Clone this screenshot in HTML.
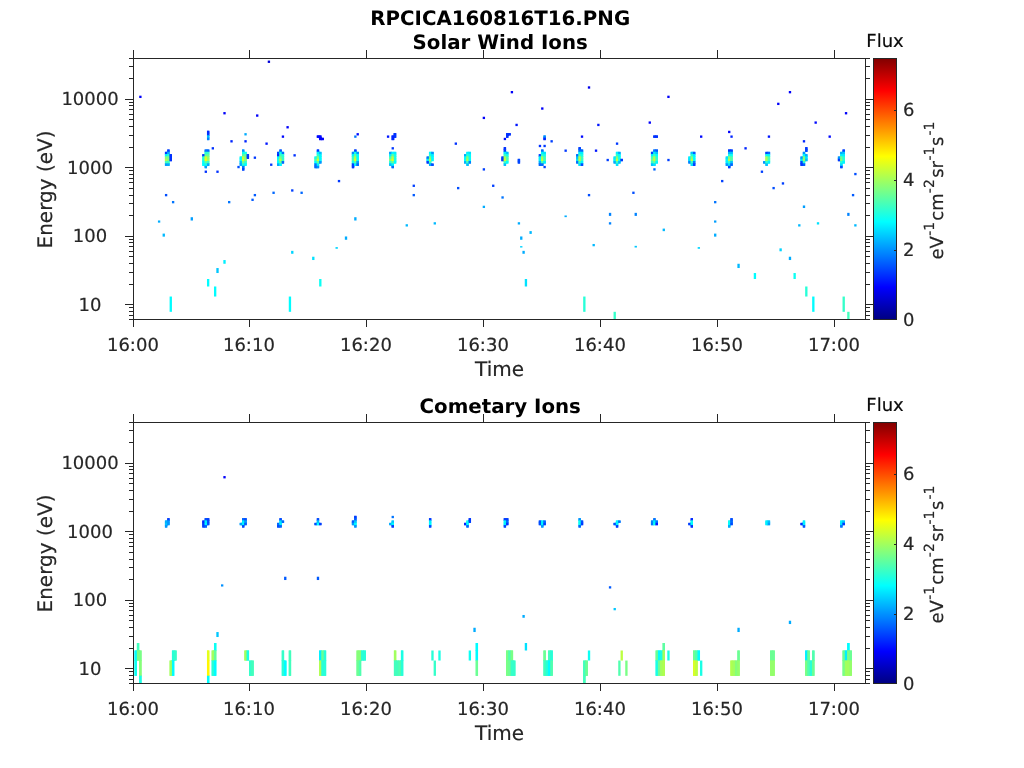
<!DOCTYPE html>
<html lang="en">
<head>
<meta charset="utf-8">
<title>RPCICA160816T16.PNG</title>
<style>
html,body{margin:0;padding:0;background:#fff;}
body{width:1024px;height:768px;overflow:hidden;}
svg{display:block;}
text{font-family:"DejaVu Sans", "Liberation Sans", sans-serif;fill:#262626;text-rendering:geometricPrecision;}
.t,.f{font-size:18px;}

.l{font-size:20px;}
.t,.f,.l{stroke:#262626;stroke-width:0.2px;}
.f{fill:#0a0a0a;stroke:#0a0a0a;}
.sup{font-size:14px;}
.h{font-size:19.8px;font-weight:bold;fill:#000;}
.ax rect{shape-rendering:crispEdges;}
</style>
</head>
<body>
<svg width="1024" height="768" viewBox="0 0 1024 768">
<defs><linearGradient id="jet" x1="0" y1="0" x2="0" y2="1"><stop offset="0.0000" stop-color="#800000"/><stop offset="0.0156" stop-color="#8f0000"/><stop offset="0.0312" stop-color="#9f0000"/><stop offset="0.0469" stop-color="#af0000"/><stop offset="0.0625" stop-color="#bf0000"/><stop offset="0.0781" stop-color="#cf0000"/><stop offset="0.0938" stop-color="#df0000"/><stop offset="0.1094" stop-color="#ef0000"/><stop offset="0.1250" stop-color="#ff0000"/><stop offset="0.1406" stop-color="#ff1000"/><stop offset="0.1562" stop-color="#ff2000"/><stop offset="0.1719" stop-color="#ff3000"/><stop offset="0.1875" stop-color="#ff4000"/><stop offset="0.2031" stop-color="#ff5000"/><stop offset="0.2188" stop-color="#ff6000"/><stop offset="0.2344" stop-color="#ff7000"/><stop offset="0.2500" stop-color="#ff8000"/><stop offset="0.2656" stop-color="#ff8f00"/><stop offset="0.2812" stop-color="#ff9f00"/><stop offset="0.2969" stop-color="#ffaf00"/><stop offset="0.3125" stop-color="#ffbf00"/><stop offset="0.3281" stop-color="#ffcf00"/><stop offset="0.3438" stop-color="#ffdf00"/><stop offset="0.3594" stop-color="#ffef00"/><stop offset="0.3750" stop-color="#ffff00"/><stop offset="0.3906" stop-color="#efff10"/><stop offset="0.4062" stop-color="#dfff20"/><stop offset="0.4219" stop-color="#cfff30"/><stop offset="0.4375" stop-color="#bfff40"/><stop offset="0.4531" stop-color="#afff50"/><stop offset="0.4688" stop-color="#9fff60"/><stop offset="0.4844" stop-color="#8fff70"/><stop offset="0.5000" stop-color="#80ff80"/><stop offset="0.5156" stop-color="#70ff8f"/><stop offset="0.5312" stop-color="#60ff9f"/><stop offset="0.5469" stop-color="#50ffaf"/><stop offset="0.5625" stop-color="#40ffbf"/><stop offset="0.5781" stop-color="#30ffcf"/><stop offset="0.5938" stop-color="#20ffdf"/><stop offset="0.6094" stop-color="#10ffef"/><stop offset="0.6250" stop-color="#00ffff"/><stop offset="0.6406" stop-color="#00efff"/><stop offset="0.6562" stop-color="#00dfff"/><stop offset="0.6719" stop-color="#00cfff"/><stop offset="0.6875" stop-color="#00bfff"/><stop offset="0.7031" stop-color="#00afff"/><stop offset="0.7188" stop-color="#009fff"/><stop offset="0.7344" stop-color="#008fff"/><stop offset="0.7500" stop-color="#0080ff"/><stop offset="0.7656" stop-color="#0070ff"/><stop offset="0.7812" stop-color="#0060ff"/><stop offset="0.7969" stop-color="#0050ff"/><stop offset="0.8125" stop-color="#0040ff"/><stop offset="0.8281" stop-color="#0030ff"/><stop offset="0.8438" stop-color="#0020ff"/><stop offset="0.8594" stop-color="#0010ff"/><stop offset="0.8750" stop-color="#0000ff"/><stop offset="0.8906" stop-color="#0000ef"/><stop offset="0.9062" stop-color="#0000df"/><stop offset="0.9219" stop-color="#0000cf"/><stop offset="0.9375" stop-color="#0000bf"/><stop offset="0.9531" stop-color="#0000af"/><stop offset="0.9688" stop-color="#00009f"/><stop offset="0.9844" stop-color="#00008f"/><stop offset="1.0000" stop-color="#000080"/></linearGradient></defs>
<rect x="0" y="0" width="1024" height="768" fill="#ffffff"/>
<text transform="translate(500.2 25) scale(1 1)" text-anchor="middle" class="h">RPCICA160816T16.PNG</text>
<g id="solar-wind">
<g class="d">
<rect x="316.80" y="135.46" width="2.84" height="2.34" fill="#0008ff"/>
<rect x="318.64" y="135.46" width="2.84" height="2.84" fill="#0008ff"/>
<rect x="319.14" y="137.30" width="2.84" height="2.84" fill="#0000fa"/>
<rect x="320.98" y="137.80" width="2.84" height="2.34" fill="#0000fa"/>
<rect x="393.41" y="133.12" width="2.84" height="4.68" fill="#0031ff"/>
<rect x="391.58" y="135.46" width="2.84" height="4.68" fill="#0024ff"/>
<rect x="506.07" y="133.12" width="2.84" height="2.84" fill="#0031ff"/>
<rect x="507.91" y="133.12" width="2.84" height="2.34" fill="#0031ff"/>
<rect x="506.07" y="134.96" width="2.34" height="2.84" fill="#0031ff"/>
<rect x="543.45" y="135.46" width="2.34" height="2.84" fill="#0090ff"/>
<rect x="543.45" y="137.30" width="2.34" height="2.84" fill="#0024ff"/>
<rect x="653.28" y="135.46" width="2.84" height="2.34" fill="#0031ff"/>
<rect x="655.11" y="135.46" width="2.84" height="2.34" fill="#0031ff"/>
<rect x="167.26" y="149.50" width="2.34" height="2.84" fill="#003fff"/>
<rect x="164.93" y="151.84" width="2.84" height="2.84" fill="#0038ff"/>
<rect x="166.76" y="151.34" width="2.84" height="3.34" fill="#00a5ff"/>
<rect x="164.93" y="153.68" width="2.84" height="3.34" fill="#00f6ff"/>
<rect x="166.76" y="153.68" width="3.34" height="3.34" fill="#27ffd8"/>
<rect x="169.10" y="154.18" width="2.84" height="2.84" fill="#0031ff"/>
<rect x="164.93" y="156.02" width="2.84" height="3.34" fill="#80ff80"/>
<rect x="166.76" y="156.02" width="3.34" height="3.34" fill="#79ff86"/>
<rect x="169.10" y="156.02" width="2.84" height="3.34" fill="#0031ff"/>
<rect x="164.93" y="158.36" width="2.84" height="3.34" fill="#afff50"/>
<rect x="166.76" y="158.36" width="3.34" height="3.34" fill="#86ff79"/>
<rect x="169.10" y="158.36" width="2.84" height="2.84" fill="#0031ff"/>
<rect x="164.93" y="160.70" width="2.84" height="3.34" fill="#42ffbd"/>
<rect x="166.76" y="160.70" width="2.84" height="3.34" fill="#35ffca"/>
<rect x="164.93" y="163.04" width="2.84" height="2.84" fill="#009eff"/>
<rect x="166.76" y="163.04" width="2.84" height="2.84" fill="#00acff"/>
<rect x="204.65" y="149.50" width="2.84" height="2.84" fill="#0075ff"/>
<rect x="206.48" y="149.50" width="2.84" height="2.84" fill="#0068ff"/>
<rect x="204.65" y="151.34" width="2.84" height="3.34" fill="#27ffd8"/>
<rect x="206.48" y="151.34" width="2.84" height="3.34" fill="#35ffca"/>
<rect x="202.31" y="154.18" width="2.84" height="2.84" fill="#0038ff"/>
<rect x="204.15" y="153.68" width="3.34" height="3.34" fill="#5effa2"/>
<rect x="206.48" y="153.68" width="2.84" height="3.34" fill="#64ff9b"/>
<rect x="202.31" y="156.02" width="2.84" height="3.34" fill="#27ffd8"/>
<rect x="204.15" y="156.02" width="3.34" height="3.34" fill="#d8ff27"/>
<rect x="206.48" y="156.02" width="2.84" height="3.34" fill="#94ff6b"/>
<rect x="202.31" y="158.36" width="2.84" height="3.34" fill="#20ffdf"/>
<rect x="204.15" y="158.36" width="3.34" height="3.34" fill="#ecff13"/>
<rect x="206.48" y="158.36" width="2.84" height="3.34" fill="#9bff64"/>
<rect x="202.31" y="160.70" width="2.84" height="3.34" fill="#00fdff"/>
<rect x="204.15" y="160.70" width="3.34" height="3.34" fill="#64ff9b"/>
<rect x="206.48" y="160.70" width="2.84" height="3.34" fill="#35ffca"/>
<rect x="202.31" y="163.04" width="2.84" height="2.84" fill="#00fdff"/>
<rect x="204.15" y="163.04" width="3.34" height="3.34" fill="#13ffec"/>
<rect x="206.48" y="163.04" width="2.84" height="2.84" fill="#00acff"/>
<rect x="204.65" y="165.38" width="2.34" height="2.84" fill="#009eff"/>
<rect x="242.03" y="149.50" width="2.34" height="2.84" fill="#0097ff"/>
<rect x="242.03" y="151.34" width="2.84" height="3.34" fill="#0cfff3"/>
<rect x="243.87" y="151.84" width="2.84" height="2.84" fill="#13ffec"/>
<rect x="242.03" y="153.68" width="2.84" height="3.34" fill="#50ffaf"/>
<rect x="243.87" y="153.68" width="3.34" height="3.34" fill="#64ff9b"/>
<rect x="246.21" y="154.18" width="2.84" height="2.84" fill="#0038ff"/>
<rect x="239.70" y="156.52" width="2.84" height="2.84" fill="#00f6ff"/>
<rect x="241.53" y="156.02" width="3.34" height="3.34" fill="#caff35"/>
<rect x="243.87" y="156.02" width="3.34" height="3.34" fill="#86ff79"/>
<rect x="246.21" y="156.02" width="2.84" height="2.84" fill="#0031ff"/>
<rect x="239.70" y="158.36" width="2.84" height="3.34" fill="#00fdff"/>
<rect x="241.53" y="158.36" width="3.34" height="3.34" fill="#d8ff27"/>
<rect x="243.87" y="158.36" width="2.84" height="3.34" fill="#79ff86"/>
<rect x="239.70" y="160.70" width="2.84" height="3.34" fill="#00c0ff"/>
<rect x="241.53" y="160.70" width="3.34" height="3.34" fill="#79ff86"/>
<rect x="243.87" y="160.70" width="2.84" height="3.34" fill="#35ffca"/>
<rect x="239.70" y="163.04" width="2.84" height="2.84" fill="#00acff"/>
<rect x="241.53" y="163.04" width="3.34" height="3.34" fill="#27ffd8"/>
<rect x="243.87" y="163.04" width="2.84" height="2.84" fill="#00fdff"/>
<rect x="242.03" y="165.38" width="2.34" height="3.34" fill="#0075ff"/>
<rect x="242.03" y="167.72" width="2.34" height="2.84" fill="#0046ff"/>
<rect x="279.42" y="149.50" width="2.34" height="2.84" fill="#005aff"/>
<rect x="277.08" y="151.84" width="2.84" height="2.84" fill="#0046ff"/>
<rect x="278.92" y="151.34" width="3.34" height="3.34" fill="#0cfff3"/>
<rect x="281.26" y="151.84" width="2.84" height="2.84" fill="#006eff"/>
<rect x="277.08" y="153.68" width="2.84" height="3.34" fill="#0024ff"/>
<rect x="278.92" y="153.68" width="3.34" height="3.34" fill="#3cffc3"/>
<rect x="281.26" y="153.68" width="2.84" height="3.34" fill="#27ffd8"/>
<rect x="277.08" y="156.02" width="2.84" height="3.34" fill="#00fdff"/>
<rect x="278.92" y="156.02" width="3.34" height="3.34" fill="#79ff86"/>
<rect x="281.26" y="156.02" width="2.84" height="3.34" fill="#35ffca"/>
<rect x="277.08" y="158.36" width="2.84" height="3.34" fill="#1affe5"/>
<rect x="278.92" y="158.36" width="3.34" height="3.34" fill="#bdff42"/>
<rect x="281.26" y="158.36" width="2.84" height="3.34" fill="#35ffca"/>
<rect x="277.08" y="160.70" width="2.84" height="3.34" fill="#00fdff"/>
<rect x="278.92" y="160.70" width="3.34" height="3.34" fill="#6bff94"/>
<rect x="281.26" y="160.70" width="2.84" height="2.84" fill="#0068ff"/>
<rect x="277.08" y="163.04" width="2.84" height="2.84" fill="#00acff"/>
<rect x="278.92" y="163.04" width="2.84" height="2.84" fill="#00f6ff"/>
<rect x="316.80" y="149.50" width="2.34" height="2.84" fill="#0038ff"/>
<rect x="316.80" y="151.34" width="2.84" height="3.34" fill="#00f6ff"/>
<rect x="318.64" y="151.84" width="2.84" height="2.84" fill="#00c0ff"/>
<rect x="316.80" y="153.68" width="2.84" height="3.34" fill="#35ffca"/>
<rect x="318.64" y="153.68" width="2.84" height="3.34" fill="#00f6ff"/>
<rect x="314.47" y="156.52" width="2.84" height="2.84" fill="#13ffec"/>
<rect x="316.30" y="156.02" width="3.34" height="3.34" fill="#86ff79"/>
<rect x="318.64" y="156.02" width="2.84" height="3.34" fill="#00fdff"/>
<rect x="314.47" y="158.36" width="2.84" height="3.34" fill="#42ffbd"/>
<rect x="316.30" y="158.36" width="3.34" height="3.34" fill="#d1ff2e"/>
<rect x="318.64" y="158.36" width="2.84" height="3.34" fill="#00fdff"/>
<rect x="314.47" y="160.70" width="2.84" height="3.34" fill="#00fdff"/>
<rect x="316.30" y="160.70" width="3.34" height="3.34" fill="#64ff9b"/>
<rect x="318.64" y="160.70" width="2.84" height="2.84" fill="#0097ff"/>
<rect x="314.47" y="163.04" width="2.84" height="3.34" fill="#0075ff"/>
<rect x="316.30" y="163.04" width="2.84" height="3.34" fill="#00f0ff"/>
<rect x="314.47" y="165.38" width="2.84" height="2.84" fill="#0068ff"/>
<rect x="316.30" y="165.38" width="2.84" height="2.84" fill="#0090ff"/>
<rect x="354.19" y="149.50" width="2.34" height="2.84" fill="#003fff"/>
<rect x="351.85" y="151.84" width="2.84" height="2.84" fill="#0090ff"/>
<rect x="353.69" y="151.34" width="3.34" height="3.34" fill="#0cfff3"/>
<rect x="356.03" y="151.84" width="2.84" height="2.84" fill="#0097ff"/>
<rect x="351.85" y="153.68" width="2.84" height="3.34" fill="#00f6ff"/>
<rect x="353.69" y="153.68" width="3.34" height="3.34" fill="#64ff9b"/>
<rect x="356.03" y="153.68" width="2.84" height="3.34" fill="#00fdff"/>
<rect x="351.85" y="156.02" width="2.84" height="3.34" fill="#35ffca"/>
<rect x="353.69" y="156.02" width="3.34" height="3.34" fill="#afff50"/>
<rect x="356.03" y="156.02" width="2.84" height="3.34" fill="#00fdff"/>
<rect x="351.85" y="158.36" width="2.84" height="3.34" fill="#42ffbd"/>
<rect x="353.69" y="158.36" width="3.34" height="3.34" fill="#dfff20"/>
<rect x="356.03" y="158.36" width="2.84" height="3.34" fill="#00fdff"/>
<rect x="351.85" y="160.70" width="2.84" height="3.34" fill="#13ffec"/>
<rect x="353.69" y="160.70" width="3.34" height="3.34" fill="#64ff9b"/>
<rect x="356.03" y="160.70" width="2.84" height="3.34" fill="#009eff"/>
<rect x="351.85" y="163.04" width="2.84" height="3.34" fill="#003fff"/>
<rect x="353.69" y="163.04" width="3.34" height="2.84" fill="#00f0ff"/>
<rect x="356.03" y="163.04" width="2.84" height="2.84" fill="#006eff"/>
<rect x="351.85" y="165.38" width="2.34" height="2.84" fill="#0038ff"/>
<rect x="389.24" y="151.84" width="2.84" height="2.84" fill="#009eff"/>
<rect x="391.08" y="151.84" width="3.34" height="2.84" fill="#00f6ff"/>
<rect x="393.41" y="151.84" width="2.84" height="2.84" fill="#00f0ff"/>
<rect x="389.24" y="153.68" width="2.84" height="3.34" fill="#00f0ff"/>
<rect x="391.08" y="153.68" width="3.34" height="3.34" fill="#64ff9b"/>
<rect x="393.41" y="153.68" width="2.84" height="3.34" fill="#13ffec"/>
<rect x="389.24" y="156.02" width="2.84" height="3.34" fill="#42ffbd"/>
<rect x="391.08" y="156.02" width="3.34" height="3.34" fill="#b6ff49"/>
<rect x="393.41" y="156.02" width="2.84" height="3.34" fill="#20ffdf"/>
<rect x="389.24" y="158.36" width="2.84" height="3.34" fill="#86ff79"/>
<rect x="391.08" y="158.36" width="3.34" height="3.34" fill="#dfff20"/>
<rect x="393.41" y="158.36" width="2.84" height="3.34" fill="#13ffec"/>
<rect x="389.24" y="160.70" width="2.84" height="3.34" fill="#27ffd8"/>
<rect x="391.08" y="160.70" width="3.34" height="3.34" fill="#6bff94"/>
<rect x="393.41" y="160.70" width="2.84" height="2.84" fill="#00fdff"/>
<rect x="389.24" y="163.04" width="2.84" height="2.84" fill="#00c0ff"/>
<rect x="391.08" y="163.04" width="2.84" height="3.34" fill="#00f6ff"/>
<rect x="391.58" y="165.38" width="2.34" height="2.84" fill="#006eff"/>
<rect x="428.96" y="151.84" width="2.84" height="2.84" fill="#00f6ff"/>
<rect x="430.80" y="151.84" width="2.84" height="2.84" fill="#0097ff"/>
<rect x="428.96" y="153.68" width="2.84" height="3.34" fill="#20ffdf"/>
<rect x="430.80" y="153.68" width="2.84" height="3.34" fill="#00f0ff"/>
<rect x="426.62" y="156.52" width="2.84" height="2.84" fill="#0075ff"/>
<rect x="428.46" y="156.02" width="3.34" height="3.34" fill="#79ff86"/>
<rect x="430.80" y="156.02" width="2.84" height="3.34" fill="#00fdff"/>
<rect x="426.62" y="158.36" width="2.84" height="3.34" fill="#00f0ff"/>
<rect x="428.46" y="158.36" width="3.34" height="3.34" fill="#bdff42"/>
<rect x="430.80" y="158.36" width="2.84" height="2.84" fill="#00fdff"/>
<rect x="426.62" y="160.70" width="2.84" height="2.84" fill="#0038ff"/>
<rect x="428.46" y="160.70" width="2.84" height="3.34" fill="#42ffbd"/>
<rect x="428.96" y="163.04" width="2.84" height="2.84" fill="#00acff"/>
<rect x="430.80" y="163.54" width="2.84" height="2.34" fill="#004dff"/>
<rect x="466.35" y="151.84" width="2.84" height="2.84" fill="#00f0ff"/>
<rect x="468.18" y="151.84" width="2.84" height="2.84" fill="#00e2ff"/>
<rect x="464.01" y="154.18" width="2.84" height="2.84" fill="#00acff"/>
<rect x="465.85" y="153.68" width="3.34" height="3.34" fill="#27ffd8"/>
<rect x="468.18" y="153.68" width="2.84" height="3.34" fill="#00fdff"/>
<rect x="464.01" y="156.02" width="2.84" height="3.34" fill="#00fdff"/>
<rect x="465.85" y="156.02" width="3.34" height="3.34" fill="#86ff79"/>
<rect x="468.18" y="156.02" width="2.84" height="3.34" fill="#0cfff3"/>
<rect x="464.01" y="158.36" width="2.84" height="3.34" fill="#00fdff"/>
<rect x="465.85" y="158.36" width="3.34" height="3.34" fill="#afff50"/>
<rect x="468.18" y="158.36" width="2.84" height="3.34" fill="#00fdff"/>
<rect x="464.01" y="160.70" width="2.84" height="2.84" fill="#00b2ff"/>
<rect x="465.85" y="160.70" width="3.34" height="3.34" fill="#3cffc3"/>
<rect x="468.18" y="160.70" width="2.84" height="2.84" fill="#0083ff"/>
<rect x="466.35" y="163.04" width="2.34" height="2.84" fill="#00c0ff"/>
<rect x="503.73" y="147.16" width="2.34" height="2.84" fill="#0031ff"/>
<rect x="503.73" y="149.00" width="2.34" height="3.34" fill="#0038ff"/>
<rect x="503.73" y="151.34" width="2.84" height="3.34" fill="#00f0ff"/>
<rect x="505.57" y="151.84" width="2.84" height="2.84" fill="#00c0ff"/>
<rect x="503.73" y="153.68" width="2.84" height="3.34" fill="#3cffc3"/>
<rect x="505.57" y="153.68" width="2.84" height="3.34" fill="#13ffec"/>
<rect x="501.40" y="156.52" width="2.84" height="2.84" fill="#003fff"/>
<rect x="503.23" y="156.02" width="3.34" height="3.34" fill="#afff50"/>
<rect x="505.57" y="156.02" width="2.84" height="3.34" fill="#50ffaf"/>
<rect x="501.40" y="158.36" width="2.84" height="2.84" fill="#0038ff"/>
<rect x="503.23" y="158.36" width="3.34" height="3.34" fill="#d1ff2e"/>
<rect x="505.57" y="158.36" width="2.84" height="3.34" fill="#50ffaf"/>
<rect x="503.73" y="160.70" width="2.84" height="3.34" fill="#42ffbd"/>
<rect x="505.57" y="160.70" width="2.84" height="2.84" fill="#00fdff"/>
<rect x="503.73" y="163.04" width="2.34" height="2.84" fill="#00c0ff"/>
<rect x="541.12" y="149.50" width="2.34" height="2.84" fill="#006eff"/>
<rect x="541.12" y="151.34" width="2.84" height="3.34" fill="#00f0ff"/>
<rect x="542.95" y="151.84" width="2.84" height="2.84" fill="#00e2ff"/>
<rect x="538.78" y="154.18" width="2.84" height="2.84" fill="#004dff"/>
<rect x="540.62" y="153.68" width="3.34" height="3.34" fill="#35ffca"/>
<rect x="542.95" y="153.68" width="2.84" height="3.34" fill="#13ffec"/>
<rect x="538.78" y="156.02" width="2.84" height="3.34" fill="#00f0ff"/>
<rect x="540.62" y="156.02" width="3.34" height="3.34" fill="#afff50"/>
<rect x="542.95" y="156.02" width="2.84" height="3.34" fill="#3cffc3"/>
<rect x="538.78" y="158.36" width="2.84" height="3.34" fill="#00f6ff"/>
<rect x="540.62" y="158.36" width="3.34" height="3.34" fill="#caff35"/>
<rect x="542.95" y="158.36" width="2.84" height="3.34" fill="#42ffbd"/>
<rect x="538.78" y="160.70" width="2.84" height="3.34" fill="#00acff"/>
<rect x="540.62" y="160.70" width="3.34" height="3.34" fill="#50ffaf"/>
<rect x="542.95" y="160.70" width="2.84" height="2.84" fill="#00f0ff"/>
<rect x="538.78" y="163.04" width="2.84" height="2.84" fill="#0068ff"/>
<rect x="540.62" y="163.04" width="2.84" height="2.84" fill="#006eff"/>
<rect x="578.50" y="147.16" width="2.34" height="2.84" fill="#003fff"/>
<rect x="578.50" y="149.00" width="2.84" height="3.34" fill="#006eff"/>
<rect x="580.34" y="149.50" width="2.84" height="2.84" fill="#0068ff"/>
<rect x="578.50" y="151.34" width="2.84" height="3.34" fill="#00f0ff"/>
<rect x="580.34" y="151.34" width="2.84" height="3.34" fill="#00f0ff"/>
<rect x="576.17" y="154.18" width="2.84" height="2.84" fill="#006eff"/>
<rect x="578.00" y="153.68" width="3.34" height="3.34" fill="#3cffc3"/>
<rect x="580.34" y="153.68" width="2.84" height="3.34" fill="#13ffec"/>
<rect x="576.17" y="156.02" width="2.84" height="3.34" fill="#00c0ff"/>
<rect x="578.00" y="156.02" width="3.34" height="3.34" fill="#b6ff49"/>
<rect x="580.34" y="156.02" width="2.84" height="3.34" fill="#42ffbd"/>
<rect x="576.17" y="158.36" width="2.84" height="3.34" fill="#00e2ff"/>
<rect x="578.00" y="158.36" width="3.34" height="3.34" fill="#bdff42"/>
<rect x="580.34" y="158.36" width="2.84" height="3.34" fill="#35ffca"/>
<rect x="576.17" y="160.70" width="2.84" height="2.84" fill="#006eff"/>
<rect x="578.00" y="160.70" width="3.34" height="3.34" fill="#42ffbd"/>
<rect x="580.34" y="160.70" width="2.84" height="3.34" fill="#00f6ff"/>
<rect x="578.50" y="163.04" width="2.84" height="2.84" fill="#00e2ff"/>
<rect x="580.34" y="163.04" width="2.84" height="2.84" fill="#004dff"/>
<rect x="615.89" y="151.84" width="2.84" height="2.84" fill="#00f0ff"/>
<rect x="617.73" y="151.84" width="2.84" height="2.84" fill="#00acff"/>
<rect x="615.89" y="153.68" width="2.84" height="3.34" fill="#35ffca"/>
<rect x="617.73" y="153.68" width="2.84" height="3.34" fill="#00fdff"/>
<rect x="613.55" y="156.52" width="2.84" height="2.84" fill="#00e9ff"/>
<rect x="615.39" y="156.02" width="3.34" height="3.34" fill="#86ff79"/>
<rect x="617.73" y="156.02" width="2.84" height="3.34" fill="#13ffec"/>
<rect x="613.55" y="158.36" width="2.84" height="3.34" fill="#00f0ff"/>
<rect x="615.39" y="158.36" width="3.34" height="3.34" fill="#caff35"/>
<rect x="617.73" y="158.36" width="3.34" height="3.34" fill="#13ffec"/>
<rect x="613.55" y="160.70" width="2.84" height="2.84" fill="#00acff"/>
<rect x="615.39" y="160.70" width="3.34" height="3.34" fill="#42ffbd"/>
<rect x="617.73" y="160.70" width="2.84" height="2.84" fill="#00c0ff"/>
<rect x="615.89" y="163.04" width="2.34" height="2.84" fill="#00e2ff"/>
<rect x="653.28" y="149.50" width="2.84" height="2.84" fill="#0075ff"/>
<rect x="655.11" y="149.50" width="2.84" height="2.84" fill="#005aff"/>
<rect x="650.94" y="151.84" width="2.84" height="2.84" fill="#003fff"/>
<rect x="652.78" y="151.34" width="3.34" height="3.34" fill="#00e9ff"/>
<rect x="655.11" y="151.34" width="2.84" height="3.34" fill="#00c0ff"/>
<rect x="650.94" y="153.68" width="2.84" height="3.34" fill="#00f0ff"/>
<rect x="652.78" y="153.68" width="3.34" height="3.34" fill="#42ffbd"/>
<rect x="655.11" y="153.68" width="2.84" height="3.34" fill="#00fdff"/>
<rect x="650.94" y="156.02" width="2.84" height="3.34" fill="#42ffbd"/>
<rect x="652.78" y="156.02" width="3.34" height="3.34" fill="#afff50"/>
<rect x="655.11" y="156.02" width="2.84" height="3.34" fill="#27ffd8"/>
<rect x="650.94" y="158.36" width="2.84" height="3.34" fill="#64ff9b"/>
<rect x="652.78" y="158.36" width="3.34" height="3.34" fill="#bdff42"/>
<rect x="655.11" y="158.36" width="2.84" height="3.34" fill="#35ffca"/>
<rect x="650.94" y="160.70" width="2.84" height="3.34" fill="#35ffca"/>
<rect x="652.78" y="160.70" width="3.34" height="3.34" fill="#64ff9b"/>
<rect x="655.11" y="160.70" width="2.84" height="2.84" fill="#00f6ff"/>
<rect x="650.94" y="163.04" width="2.84" height="2.84" fill="#00c0ff"/>
<rect x="652.78" y="163.04" width="2.84" height="2.84" fill="#00e2ff"/>
<rect x="690.66" y="151.84" width="2.84" height="2.84" fill="#00c0ff"/>
<rect x="692.50" y="151.84" width="2.84" height="2.84" fill="#005aff"/>
<rect x="690.66" y="153.68" width="2.84" height="3.34" fill="#27ffd8"/>
<rect x="692.50" y="153.68" width="2.84" height="3.34" fill="#00f0ff"/>
<rect x="688.32" y="156.52" width="2.84" height="2.84" fill="#00f0ff"/>
<rect x="690.16" y="156.02" width="3.34" height="3.34" fill="#86ff79"/>
<rect x="692.50" y="156.02" width="2.84" height="3.34" fill="#00fdff"/>
<rect x="688.32" y="158.36" width="2.84" height="3.34" fill="#00e2ff"/>
<rect x="690.16" y="158.36" width="3.34" height="3.34" fill="#bdff42"/>
<rect x="692.50" y="158.36" width="2.84" height="3.34" fill="#00fdff"/>
<rect x="688.32" y="160.70" width="2.84" height="2.84" fill="#0083ff"/>
<rect x="690.16" y="160.70" width="3.34" height="3.34" fill="#3cffc3"/>
<rect x="692.50" y="160.70" width="2.84" height="3.34" fill="#0075ff"/>
<rect x="690.66" y="163.04" width="2.84" height="2.84" fill="#00e2ff"/>
<rect x="692.50" y="163.04" width="2.84" height="2.84" fill="#003fff"/>
<rect x="728.05" y="149.50" width="2.84" height="2.84" fill="#0038ff"/>
<rect x="729.88" y="149.50" width="2.84" height="2.84" fill="#003fff"/>
<rect x="728.05" y="151.34" width="2.84" height="3.34" fill="#00b9ff"/>
<rect x="729.88" y="151.34" width="2.84" height="3.34" fill="#00c0ff"/>
<rect x="728.05" y="153.68" width="2.84" height="3.34" fill="#13ffec"/>
<rect x="729.88" y="153.68" width="2.84" height="3.34" fill="#0cfff3"/>
<rect x="725.71" y="156.52" width="2.84" height="2.84" fill="#00e2ff"/>
<rect x="727.55" y="156.02" width="3.34" height="3.34" fill="#86ff79"/>
<rect x="729.88" y="156.02" width="2.84" height="3.34" fill="#50ffaf"/>
<rect x="725.71" y="158.36" width="2.84" height="3.34" fill="#00f6ff"/>
<rect x="727.55" y="158.36" width="3.34" height="3.34" fill="#b6ff49"/>
<rect x="729.88" y="158.36" width="2.84" height="3.34" fill="#50ffaf"/>
<rect x="725.71" y="160.70" width="2.84" height="3.34" fill="#00f0ff"/>
<rect x="727.55" y="160.70" width="3.34" height="3.34" fill="#35ffca"/>
<rect x="729.88" y="160.70" width="2.84" height="3.34" fill="#00c0ff"/>
<rect x="725.71" y="163.04" width="2.84" height="2.84" fill="#0097ff"/>
<rect x="727.55" y="163.04" width="3.34" height="3.34" fill="#00e2ff"/>
<rect x="729.88" y="163.04" width="2.84" height="2.84" fill="#0068ff"/>
<rect x="728.05" y="165.38" width="2.34" height="2.84" fill="#003fff"/>
<rect x="765.43" y="151.84" width="2.84" height="2.84" fill="#003fff"/>
<rect x="767.27" y="151.84" width="2.84" height="2.84" fill="#0068ff"/>
<rect x="765.43" y="153.68" width="2.84" height="3.34" fill="#13ffec"/>
<rect x="767.27" y="153.68" width="2.84" height="3.34" fill="#00f6ff"/>
<rect x="765.43" y="156.02" width="2.84" height="3.34" fill="#a2ff5e"/>
<rect x="767.27" y="156.02" width="2.84" height="3.34" fill="#50ffaf"/>
<rect x="765.43" y="158.36" width="2.84" height="3.34" fill="#afff50"/>
<rect x="767.27" y="158.36" width="2.84" height="3.34" fill="#42ffbd"/>
<rect x="763.10" y="161.20" width="2.84" height="2.34" fill="#0097ff"/>
<rect x="764.93" y="160.70" width="3.34" height="3.34" fill="#35ffca"/>
<rect x="767.27" y="160.70" width="2.84" height="2.84" fill="#00f6ff"/>
<rect x="765.43" y="163.04" width="2.34" height="2.84" fill="#00c0ff"/>
<rect x="805.15" y="147.16" width="2.34" height="2.84" fill="#0038ff"/>
<rect x="805.15" y="149.00" width="2.34" height="2.84" fill="#003fff"/>
<rect x="802.82" y="151.84" width="2.34" height="2.84" fill="#0097ff"/>
<rect x="802.82" y="153.68" width="2.84" height="3.34" fill="#00fdff"/>
<rect x="804.65" y="154.18" width="2.84" height="2.84" fill="#00acff"/>
<rect x="800.48" y="156.52" width="2.84" height="2.84" fill="#0097ff"/>
<rect x="802.32" y="156.02" width="3.34" height="3.34" fill="#86ff79"/>
<rect x="804.65" y="156.02" width="2.84" height="3.34" fill="#00e9ff"/>
<rect x="800.48" y="158.36" width="2.84" height="3.34" fill="#00e2ff"/>
<rect x="802.32" y="158.36" width="3.34" height="3.34" fill="#a2ff5e"/>
<rect x="804.65" y="158.36" width="2.84" height="2.84" fill="#00c0ff"/>
<rect x="800.48" y="160.70" width="2.84" height="3.34" fill="#003fff"/>
<rect x="802.32" y="160.70" width="2.84" height="3.34" fill="#27ffd8"/>
<rect x="800.48" y="163.04" width="2.84" height="2.84" fill="#0038ff"/>
<rect x="802.32" y="163.04" width="2.84" height="2.84" fill="#005aff"/>
<rect x="842.54" y="149.50" width="2.34" height="2.84" fill="#003fff"/>
<rect x="840.20" y="151.84" width="2.84" height="2.84" fill="#00acff"/>
<rect x="842.04" y="151.34" width="2.84" height="3.34" fill="#00c0ff"/>
<rect x="840.20" y="153.68" width="2.84" height="3.34" fill="#00f0ff"/>
<rect x="842.04" y="153.68" width="2.84" height="3.34" fill="#00f0ff"/>
<rect x="837.87" y="156.52" width="2.84" height="2.84" fill="#0097ff"/>
<rect x="839.70" y="156.02" width="3.34" height="3.34" fill="#6bff94"/>
<rect x="842.04" y="156.02" width="2.84" height="3.34" fill="#27ffd8"/>
<rect x="837.87" y="158.36" width="2.84" height="2.84" fill="#0038ff"/>
<rect x="839.70" y="158.36" width="3.34" height="3.34" fill="#86ff79"/>
<rect x="842.04" y="158.36" width="2.84" height="3.34" fill="#27ffd8"/>
<rect x="840.20" y="160.70" width="2.84" height="3.34" fill="#27ffd8"/>
<rect x="842.04" y="160.70" width="2.84" height="2.84" fill="#00f6ff"/>
<rect x="840.20" y="163.04" width="2.34" height="3.34" fill="#00e2ff"/>
<rect x="840.20" y="165.38" width="2.34" height="2.84" fill="#004dff"/>
<rect x="517.75" y="158.86" width="2.34" height="2.84" fill="#0046ff"/>
<rect x="517.75" y="160.70" width="2.34" height="2.84" fill="#0046ff"/>
<rect x="620.06" y="158.86" width="2.84" height="2.34" fill="#0038ff"/>
<rect x="206.98" y="130.78" width="2.34" height="2.84" fill="#002aff"/>
<rect x="206.98" y="132.62" width="2.34" height="3.34" fill="#0031ff"/>
<rect x="206.98" y="134.96" width="2.34" height="3.34" fill="#00c0ff"/>
<rect x="206.98" y="137.30" width="2.34" height="2.84" fill="#0083ff"/>
<rect x="139.22" y="95.68" width="2.34" height="2.34" fill="#0000fa"/>
<rect x="223.34" y="112.06" width="2.34" height="2.34" fill="#0000fa"/>
<rect x="230.35" y="140.14" width="2.34" height="2.34" fill="#0024ff"/>
<rect x="244.37" y="133.12" width="2.34" height="2.34" fill="#00acff"/>
<rect x="244.37" y="140.14" width="2.34" height="2.34" fill="#0024ff"/>
<rect x="164.93" y="193.96" width="2.34" height="2.34" fill="#004dff"/>
<rect x="171.94" y="200.98" width="2.34" height="2.34" fill="#0075ff"/>
<rect x="157.92" y="220.47" width="2.34" height="2.18" fill="#00acff"/>
<rect x="190.63" y="217.22" width="2.34" height="3.30" fill="#009eff"/>
<rect x="228.01" y="200.98" width="2.34" height="2.34" fill="#0075ff"/>
<rect x="251.38" y="198.64" width="2.34" height="2.34" fill="#005aff"/>
<rect x="253.72" y="193.96" width="2.34" height="2.34" fill="#005aff"/>
<rect x="162.59" y="233.60" width="2.34" height="3.05" fill="#00b9ff"/>
<rect x="223.34" y="260.04" width="2.34" height="3.73" fill="#00f0ff"/>
<rect x="216.33" y="268.04" width="2.34" height="4.98" fill="#00c7ff"/>
<rect x="206.98" y="279.00" width="2.34" height="7.50" fill="#00fdff"/>
<rect x="213.99" y="286.49" width="2.34" height="10.04" fill="#00fdff"/>
<rect x="169.60" y="296.54" width="2.34" height="15.28" fill="#00fdff"/>
<rect x="267.74" y="60.58" width="2.34" height="2.34" fill="#0000d8"/>
<rect x="256.05" y="114.40" width="2.34" height="2.34" fill="#0000fa"/>
<rect x="286.43" y="126.10" width="2.34" height="2.34" fill="#0000fa"/>
<rect x="281.76" y="135.46" width="2.34" height="2.34" fill="#0008ff"/>
<rect x="265.40" y="142.48" width="2.34" height="2.34" fill="#0016ff"/>
<rect x="316.80" y="135.46" width="2.34" height="2.34" fill="#0008ff"/>
<rect x="319.14" y="135.46" width="2.34" height="2.34" fill="#0008ff"/>
<rect x="319.14" y="137.80" width="2.34" height="2.34" fill="#0000fa"/>
<rect x="321.48" y="137.80" width="2.34" height="2.34" fill="#0000fa"/>
<rect x="356.53" y="133.12" width="2.34" height="2.34" fill="#0008ff"/>
<rect x="354.19" y="135.46" width="2.34" height="2.34" fill="#0075ff"/>
<rect x="291.10" y="189.28" width="2.34" height="2.34" fill="#003fff"/>
<rect x="272.41" y="191.62" width="2.34" height="2.34" fill="#0068ff"/>
<rect x="300.45" y="191.62" width="2.34" height="2.34" fill="#0068ff"/>
<rect x="354.19" y="217.22" width="2.34" height="3.30" fill="#00acff"/>
<rect x="344.84" y="236.47" width="2.34" height="3.30" fill="#00acff"/>
<rect x="335.50" y="247.10" width="2.34" height="1.68" fill="#00d4ff"/>
<rect x="291.10" y="250.85" width="2.34" height="2.93" fill="#00d4ff"/>
<rect x="312.13" y="256.73" width="2.34" height="3.30" fill="#00e2ff"/>
<rect x="319.14" y="279.00" width="2.34" height="7.50" fill="#0cfff3"/>
<rect x="288.77" y="296.54" width="2.34" height="15.28" fill="#00fdff"/>
<rect x="510.74" y="91.00" width="2.34" height="2.34" fill="#0000fa"/>
<rect x="482.70" y="116.74" width="2.34" height="2.34" fill="#0000fa"/>
<rect x="386.90" y="135.46" width="2.34" height="2.34" fill="#0016ff"/>
<rect x="393.91" y="133.12" width="2.34" height="4.68" fill="#0031ff"/>
<rect x="391.58" y="135.46" width="2.34" height="4.68" fill="#0024ff"/>
<rect x="506.07" y="133.12" width="2.34" height="2.34" fill="#0031ff"/>
<rect x="508.41" y="133.12" width="2.34" height="2.34" fill="#0031ff"/>
<rect x="506.07" y="135.46" width="2.34" height="2.34" fill="#0031ff"/>
<rect x="503.73" y="137.80" width="2.34" height="2.34" fill="#0008ff"/>
<rect x="457.00" y="186.94" width="2.34" height="2.34" fill="#004dff"/>
<rect x="412.61" y="193.96" width="2.34" height="2.34" fill="#005aff"/>
<rect x="501.40" y="196.30" width="2.34" height="2.34" fill="#0075ff"/>
<rect x="482.70" y="205.72" width="2.34" height="2.30" fill="#00acff"/>
<rect x="433.63" y="222.22" width="2.34" height="2.30" fill="#00b9ff"/>
<rect x="405.60" y="224.22" width="2.34" height="2.30" fill="#00b9ff"/>
<rect x="587.85" y="86.32" width="2.34" height="2.34" fill="#0000ec"/>
<rect x="541.12" y="107.38" width="2.34" height="2.34" fill="#0000fa"/>
<rect x="515.42" y="123.76" width="2.34" height="2.34" fill="#0016ff"/>
<rect x="597.20" y="123.76" width="2.34" height="2.34" fill="#0016ff"/>
<rect x="543.45" y="135.46" width="2.34" height="2.34" fill="#0090ff"/>
<rect x="543.45" y="137.80" width="2.34" height="2.34" fill="#0024ff"/>
<rect x="580.84" y="135.46" width="2.34" height="2.34" fill="#0008ff"/>
<rect x="594.86" y="149.50" width="2.34" height="2.34" fill="#0016ff"/>
<rect x="587.85" y="193.96" width="2.34" height="2.34" fill="#004dff"/>
<rect x="632.25" y="191.62" width="2.34" height="2.34" fill="#004dff"/>
<rect x="564.48" y="215.47" width="2.34" height="1.68" fill="#00acff"/>
<rect x="608.88" y="212.85" width="2.34" height="3.05" fill="#0083ff"/>
<rect x="634.58" y="212.85" width="2.34" height="3.05" fill="#0083ff"/>
<rect x="517.75" y="222.22" width="2.34" height="2.30" fill="#00acff"/>
<rect x="608.88" y="222.22" width="2.34" height="2.30" fill="#0083ff"/>
<rect x="529.44" y="231.10" width="2.34" height="2.80" fill="#00b9ff"/>
<rect x="520.09" y="236.47" width="2.34" height="3.30" fill="#00acff"/>
<rect x="520.09" y="246.10" width="2.34" height="1.43" fill="#00d4ff"/>
<rect x="522.43" y="250.85" width="2.34" height="2.93" fill="#00acff"/>
<rect x="592.52" y="243.97" width="2.34" height="2.30" fill="#00b9ff"/>
<rect x="634.58" y="245.85" width="2.34" height="1.68" fill="#00c7ff"/>
<rect x="524.76" y="279.00" width="2.34" height="7.50" fill="#00e2ff"/>
<rect x="583.18" y="296.54" width="2.34" height="15.28" fill="#27ffd8"/>
<rect x="613.55" y="311.81" width="2.34" height="7.69" fill="#35ffca"/>
<rect x="667.29" y="95.68" width="2.34" height="2.34" fill="#0000fa"/>
<rect x="648.60" y="121.42" width="2.34" height="2.34" fill="#0000fa"/>
<rect x="653.28" y="135.46" width="2.34" height="2.34" fill="#0031ff"/>
<rect x="655.61" y="135.46" width="2.34" height="2.34" fill="#0031ff"/>
<rect x="700.01" y="135.46" width="2.34" height="2.34" fill="#0008ff"/>
<rect x="728.05" y="130.78" width="2.34" height="2.34" fill="#0000fa"/>
<rect x="730.38" y="135.46" width="2.34" height="2.34" fill="#0024ff"/>
<rect x="744.40" y="147.16" width="2.34" height="2.34" fill="#0024ff"/>
<rect x="714.03" y="200.98" width="2.34" height="2.34" fill="#0075ff"/>
<rect x="714.03" y="220.47" width="2.34" height="2.18" fill="#009eff"/>
<rect x="662.62" y="228.60" width="2.34" height="2.55" fill="#00b9ff"/>
<rect x="714.03" y="233.60" width="2.34" height="3.05" fill="#00acff"/>
<rect x="697.67" y="247.10" width="2.34" height="1.68" fill="#00d4ff"/>
<rect x="737.39" y="263.77" width="2.34" height="4.26" fill="#00b9ff"/>
<rect x="753.75" y="273.02" width="2.34" height="5.98" fill="#00fdff"/>
<rect x="788.80" y="91.00" width="2.34" height="2.34" fill="#0000fa"/>
<rect x="777.12" y="102.70" width="2.34" height="2.34" fill="#0000fa"/>
<rect x="844.88" y="112.06" width="2.34" height="2.34" fill="#0000fa"/>
<rect x="814.50" y="121.42" width="2.34" height="2.34" fill="#0008ff"/>
<rect x="767.77" y="135.46" width="2.34" height="2.34" fill="#0016ff"/>
<rect x="828.52" y="135.46" width="2.34" height="2.34" fill="#0008ff"/>
<rect x="772.44" y="186.94" width="2.34" height="2.34" fill="#004dff"/>
<rect x="851.89" y="193.96" width="2.34" height="2.34" fill="#005aff"/>
<rect x="802.82" y="205.47" width="2.34" height="2.55" fill="#009eff"/>
<rect x="847.21" y="212.85" width="2.34" height="3.05" fill="#0083ff"/>
<rect x="798.14" y="224.22" width="2.34" height="2.30" fill="#00b9ff"/>
<rect x="816.84" y="222.22" width="2.34" height="2.30" fill="#00e2ff"/>
<rect x="854.22" y="224.22" width="2.34" height="2.30" fill="#00b9ff"/>
<rect x="779.45" y="248.35" width="2.34" height="2.93" fill="#00d4ff"/>
<rect x="788.80" y="256.73" width="2.34" height="3.30" fill="#00acff"/>
<rect x="793.47" y="273.02" width="2.34" height="5.98" fill="#0cfff3"/>
<rect x="805.15" y="286.49" width="2.34" height="10.04" fill="#27ffd8"/>
<rect x="812.16" y="296.54" width="2.34" height="15.28" fill="#00fdff"/>
<rect x="842.54" y="296.54" width="2.34" height="15.28" fill="#35ffca"/>
<rect x="847.21" y="311.81" width="2.34" height="7.69" fill="#42ffbd"/>
<rect x="167.26" y="149.50" width="2.34" height="2.34" fill="#003fff"/>
<rect x="164.93" y="151.84" width="2.34" height="2.34" fill="#0038ff"/>
<rect x="167.26" y="151.84" width="2.34" height="2.34" fill="#00a5ff"/>
<rect x="164.93" y="154.18" width="2.34" height="2.34" fill="#00f6ff"/>
<rect x="167.26" y="154.18" width="2.34" height="2.34" fill="#27ffd8"/>
<rect x="169.60" y="154.18" width="2.34" height="2.34" fill="#0031ff"/>
<rect x="164.93" y="156.52" width="2.34" height="2.34" fill="#80ff80"/>
<rect x="167.26" y="156.52" width="2.34" height="2.34" fill="#79ff86"/>
<rect x="169.60" y="156.52" width="2.34" height="2.34" fill="#0031ff"/>
<rect x="164.93" y="158.86" width="2.34" height="2.34" fill="#afff50"/>
<rect x="167.26" y="158.86" width="2.34" height="2.34" fill="#86ff79"/>
<rect x="169.60" y="158.86" width="2.34" height="2.34" fill="#0031ff"/>
<rect x="164.93" y="161.20" width="2.34" height="2.34" fill="#42ffbd"/>
<rect x="167.26" y="161.20" width="2.34" height="2.34" fill="#35ffca"/>
<rect x="164.93" y="163.54" width="2.34" height="2.34" fill="#009eff"/>
<rect x="167.26" y="163.54" width="2.34" height="2.34" fill="#00acff"/>
<rect x="204.65" y="149.50" width="2.34" height="2.34" fill="#0075ff"/>
<rect x="206.98" y="149.50" width="2.34" height="2.34" fill="#0068ff"/>
<rect x="204.65" y="151.84" width="2.34" height="2.34" fill="#27ffd8"/>
<rect x="206.98" y="151.84" width="2.34" height="2.34" fill="#35ffca"/>
<rect x="202.31" y="154.18" width="2.34" height="2.34" fill="#0038ff"/>
<rect x="204.65" y="154.18" width="2.34" height="2.34" fill="#5effa2"/>
<rect x="206.98" y="154.18" width="2.34" height="2.34" fill="#64ff9b"/>
<rect x="202.31" y="156.52" width="2.34" height="2.34" fill="#27ffd8"/>
<rect x="204.65" y="156.52" width="2.34" height="2.34" fill="#d8ff27"/>
<rect x="206.98" y="156.52" width="2.34" height="2.34" fill="#94ff6b"/>
<rect x="202.31" y="158.86" width="2.34" height="2.34" fill="#20ffdf"/>
<rect x="204.65" y="158.86" width="2.34" height="2.34" fill="#ecff13"/>
<rect x="206.98" y="158.86" width="2.34" height="2.34" fill="#9bff64"/>
<rect x="202.31" y="161.20" width="2.34" height="2.34" fill="#00fdff"/>
<rect x="204.65" y="161.20" width="2.34" height="2.34" fill="#64ff9b"/>
<rect x="206.98" y="161.20" width="2.34" height="2.34" fill="#35ffca"/>
<rect x="202.31" y="163.54" width="2.34" height="2.34" fill="#00fdff"/>
<rect x="204.65" y="163.54" width="2.34" height="2.34" fill="#13ffec"/>
<rect x="206.98" y="163.54" width="2.34" height="2.34" fill="#00acff"/>
<rect x="204.65" y="165.88" width="2.34" height="2.34" fill="#009eff"/>
<rect x="242.03" y="149.50" width="2.34" height="2.34" fill="#0097ff"/>
<rect x="242.03" y="151.84" width="2.34" height="2.34" fill="#0cfff3"/>
<rect x="244.37" y="151.84" width="2.34" height="2.34" fill="#13ffec"/>
<rect x="242.03" y="154.18" width="2.34" height="2.34" fill="#50ffaf"/>
<rect x="244.37" y="154.18" width="2.34" height="2.34" fill="#64ff9b"/>
<rect x="246.71" y="154.18" width="2.34" height="2.34" fill="#0038ff"/>
<rect x="239.70" y="156.52" width="2.34" height="2.34" fill="#00f6ff"/>
<rect x="242.03" y="156.52" width="2.34" height="2.34" fill="#caff35"/>
<rect x="244.37" y="156.52" width="2.34" height="2.34" fill="#86ff79"/>
<rect x="246.71" y="156.52" width="2.34" height="2.34" fill="#0031ff"/>
<rect x="239.70" y="158.86" width="2.34" height="2.34" fill="#00fdff"/>
<rect x="242.03" y="158.86" width="2.34" height="2.34" fill="#d8ff27"/>
<rect x="244.37" y="158.86" width="2.34" height="2.34" fill="#79ff86"/>
<rect x="239.70" y="161.20" width="2.34" height="2.34" fill="#00c0ff"/>
<rect x="242.03" y="161.20" width="2.34" height="2.34" fill="#79ff86"/>
<rect x="244.37" y="161.20" width="2.34" height="2.34" fill="#35ffca"/>
<rect x="239.70" y="163.54" width="2.34" height="2.34" fill="#00acff"/>
<rect x="242.03" y="163.54" width="2.34" height="2.34" fill="#27ffd8"/>
<rect x="244.37" y="163.54" width="2.34" height="2.34" fill="#00fdff"/>
<rect x="237.36" y="165.88" width="2.34" height="2.34" fill="#004dff"/>
<rect x="242.03" y="165.88" width="2.34" height="2.34" fill="#0075ff"/>
<rect x="242.03" y="168.22" width="2.34" height="2.34" fill="#0046ff"/>
<rect x="279.42" y="149.50" width="2.34" height="2.34" fill="#005aff"/>
<rect x="277.08" y="151.84" width="2.34" height="2.34" fill="#0046ff"/>
<rect x="279.42" y="151.84" width="2.34" height="2.34" fill="#0cfff3"/>
<rect x="281.76" y="151.84" width="2.34" height="2.34" fill="#006eff"/>
<rect x="277.08" y="154.18" width="2.34" height="2.34" fill="#0024ff"/>
<rect x="279.42" y="154.18" width="2.34" height="2.34" fill="#3cffc3"/>
<rect x="281.76" y="154.18" width="2.34" height="2.34" fill="#27ffd8"/>
<rect x="277.08" y="156.52" width="2.34" height="2.34" fill="#00fdff"/>
<rect x="279.42" y="156.52" width="2.34" height="2.34" fill="#79ff86"/>
<rect x="281.76" y="156.52" width="2.34" height="2.34" fill="#35ffca"/>
<rect x="277.08" y="158.86" width="2.34" height="2.34" fill="#1affe5"/>
<rect x="279.42" y="158.86" width="2.34" height="2.34" fill="#bdff42"/>
<rect x="281.76" y="158.86" width="2.34" height="2.34" fill="#35ffca"/>
<rect x="277.08" y="161.20" width="2.34" height="2.34" fill="#00fdff"/>
<rect x="279.42" y="161.20" width="2.34" height="2.34" fill="#6bff94"/>
<rect x="281.76" y="161.20" width="2.34" height="2.34" fill="#0068ff"/>
<rect x="277.08" y="163.54" width="2.34" height="2.34" fill="#00acff"/>
<rect x="279.42" y="163.54" width="2.34" height="2.34" fill="#00f6ff"/>
<rect x="316.80" y="149.50" width="2.34" height="2.34" fill="#0038ff"/>
<rect x="316.80" y="151.84" width="2.34" height="2.34" fill="#00f6ff"/>
<rect x="319.14" y="151.84" width="2.34" height="2.34" fill="#00c0ff"/>
<rect x="316.80" y="154.18" width="2.34" height="2.34" fill="#35ffca"/>
<rect x="319.14" y="154.18" width="2.34" height="2.34" fill="#00f6ff"/>
<rect x="314.47" y="156.52" width="2.34" height="2.34" fill="#13ffec"/>
<rect x="316.80" y="156.52" width="2.34" height="2.34" fill="#86ff79"/>
<rect x="319.14" y="156.52" width="2.34" height="2.34" fill="#00fdff"/>
<rect x="314.47" y="158.86" width="2.34" height="2.34" fill="#42ffbd"/>
<rect x="316.80" y="158.86" width="2.34" height="2.34" fill="#d1ff2e"/>
<rect x="319.14" y="158.86" width="2.34" height="2.34" fill="#00fdff"/>
<rect x="314.47" y="161.20" width="2.34" height="2.34" fill="#00fdff"/>
<rect x="316.80" y="161.20" width="2.34" height="2.34" fill="#64ff9b"/>
<rect x="319.14" y="161.20" width="2.34" height="2.34" fill="#0097ff"/>
<rect x="314.47" y="163.54" width="2.34" height="2.34" fill="#0075ff"/>
<rect x="316.80" y="163.54" width="2.34" height="2.34" fill="#00f0ff"/>
<rect x="314.47" y="165.88" width="2.34" height="2.34" fill="#0068ff"/>
<rect x="316.80" y="165.88" width="2.34" height="2.34" fill="#0090ff"/>
<rect x="354.19" y="149.50" width="2.34" height="2.34" fill="#003fff"/>
<rect x="351.85" y="151.84" width="2.34" height="2.34" fill="#0090ff"/>
<rect x="354.19" y="151.84" width="2.34" height="2.34" fill="#0cfff3"/>
<rect x="356.53" y="151.84" width="2.34" height="2.34" fill="#0097ff"/>
<rect x="351.85" y="154.18" width="2.34" height="2.34" fill="#00f6ff"/>
<rect x="354.19" y="154.18" width="2.34" height="2.34" fill="#64ff9b"/>
<rect x="356.53" y="154.18" width="2.34" height="2.34" fill="#00fdff"/>
<rect x="351.85" y="156.52" width="2.34" height="2.34" fill="#35ffca"/>
<rect x="354.19" y="156.52" width="2.34" height="2.34" fill="#afff50"/>
<rect x="356.53" y="156.52" width="2.34" height="2.34" fill="#00fdff"/>
<rect x="351.85" y="158.86" width="2.34" height="2.34" fill="#42ffbd"/>
<rect x="354.19" y="158.86" width="2.34" height="2.34" fill="#dfff20"/>
<rect x="356.53" y="158.86" width="2.34" height="2.34" fill="#00fdff"/>
<rect x="351.85" y="161.20" width="2.34" height="2.34" fill="#13ffec"/>
<rect x="354.19" y="161.20" width="2.34" height="2.34" fill="#64ff9b"/>
<rect x="356.53" y="161.20" width="2.34" height="2.34" fill="#009eff"/>
<rect x="351.85" y="163.54" width="2.34" height="2.34" fill="#003fff"/>
<rect x="354.19" y="163.54" width="2.34" height="2.34" fill="#00f0ff"/>
<rect x="356.53" y="163.54" width="2.34" height="2.34" fill="#006eff"/>
<rect x="351.85" y="165.88" width="2.34" height="2.34" fill="#0038ff"/>
<rect x="389.24" y="151.84" width="2.34" height="2.34" fill="#009eff"/>
<rect x="391.58" y="151.84" width="2.34" height="2.34" fill="#00f6ff"/>
<rect x="393.91" y="151.84" width="2.34" height="2.34" fill="#00f0ff"/>
<rect x="389.24" y="154.18" width="2.34" height="2.34" fill="#00f0ff"/>
<rect x="391.58" y="154.18" width="2.34" height="2.34" fill="#64ff9b"/>
<rect x="393.91" y="154.18" width="2.34" height="2.34" fill="#13ffec"/>
<rect x="389.24" y="156.52" width="2.34" height="2.34" fill="#42ffbd"/>
<rect x="391.58" y="156.52" width="2.34" height="2.34" fill="#b6ff49"/>
<rect x="393.91" y="156.52" width="2.34" height="2.34" fill="#20ffdf"/>
<rect x="389.24" y="158.86" width="2.34" height="2.34" fill="#86ff79"/>
<rect x="391.58" y="158.86" width="2.34" height="2.34" fill="#dfff20"/>
<rect x="393.91" y="158.86" width="2.34" height="2.34" fill="#13ffec"/>
<rect x="389.24" y="161.20" width="2.34" height="2.34" fill="#27ffd8"/>
<rect x="391.58" y="161.20" width="2.34" height="2.34" fill="#6bff94"/>
<rect x="393.91" y="161.20" width="2.34" height="2.34" fill="#00fdff"/>
<rect x="389.24" y="163.54" width="2.34" height="2.34" fill="#00c0ff"/>
<rect x="391.58" y="163.54" width="2.34" height="2.34" fill="#00f6ff"/>
<rect x="391.58" y="165.88" width="2.34" height="2.34" fill="#006eff"/>
<rect x="428.96" y="151.84" width="2.34" height="2.34" fill="#00f6ff"/>
<rect x="431.30" y="151.84" width="2.34" height="2.34" fill="#0097ff"/>
<rect x="428.96" y="154.18" width="2.34" height="2.34" fill="#20ffdf"/>
<rect x="431.30" y="154.18" width="2.34" height="2.34" fill="#00f0ff"/>
<rect x="426.62" y="156.52" width="2.34" height="2.34" fill="#0075ff"/>
<rect x="428.96" y="156.52" width="2.34" height="2.34" fill="#79ff86"/>
<rect x="431.30" y="156.52" width="2.34" height="2.34" fill="#00fdff"/>
<rect x="426.62" y="158.86" width="2.34" height="2.34" fill="#00f0ff"/>
<rect x="428.96" y="158.86" width="2.34" height="2.34" fill="#bdff42"/>
<rect x="431.30" y="158.86" width="2.34" height="2.34" fill="#00fdff"/>
<rect x="426.62" y="161.20" width="2.34" height="2.34" fill="#0038ff"/>
<rect x="428.96" y="161.20" width="2.34" height="2.34" fill="#42ffbd"/>
<rect x="428.96" y="163.54" width="2.34" height="2.34" fill="#00acff"/>
<rect x="431.30" y="163.54" width="2.34" height="2.34" fill="#004dff"/>
<rect x="466.35" y="151.84" width="2.34" height="2.34" fill="#00f0ff"/>
<rect x="468.68" y="151.84" width="2.34" height="2.34" fill="#00e2ff"/>
<rect x="464.01" y="154.18" width="2.34" height="2.34" fill="#00acff"/>
<rect x="466.35" y="154.18" width="2.34" height="2.34" fill="#27ffd8"/>
<rect x="468.68" y="154.18" width="2.34" height="2.34" fill="#00fdff"/>
<rect x="464.01" y="156.52" width="2.34" height="2.34" fill="#00fdff"/>
<rect x="466.35" y="156.52" width="2.34" height="2.34" fill="#86ff79"/>
<rect x="468.68" y="156.52" width="2.34" height="2.34" fill="#0cfff3"/>
<rect x="464.01" y="158.86" width="2.34" height="2.34" fill="#00fdff"/>
<rect x="466.35" y="158.86" width="2.34" height="2.34" fill="#afff50"/>
<rect x="468.68" y="158.86" width="2.34" height="2.34" fill="#00fdff"/>
<rect x="464.01" y="161.20" width="2.34" height="2.34" fill="#00b2ff"/>
<rect x="466.35" y="161.20" width="2.34" height="2.34" fill="#3cffc3"/>
<rect x="468.68" y="161.20" width="2.34" height="2.34" fill="#0083ff"/>
<rect x="466.35" y="163.54" width="2.34" height="2.34" fill="#00c0ff"/>
<rect x="503.73" y="147.16" width="2.34" height="2.34" fill="#0031ff"/>
<rect x="503.73" y="149.50" width="2.34" height="2.34" fill="#0038ff"/>
<rect x="503.73" y="151.84" width="2.34" height="2.34" fill="#00f0ff"/>
<rect x="506.07" y="151.84" width="2.34" height="2.34" fill="#00c0ff"/>
<rect x="503.73" y="154.18" width="2.34" height="2.34" fill="#3cffc3"/>
<rect x="506.07" y="154.18" width="2.34" height="2.34" fill="#13ffec"/>
<rect x="501.40" y="156.52" width="2.34" height="2.34" fill="#003fff"/>
<rect x="503.73" y="156.52" width="2.34" height="2.34" fill="#afff50"/>
<rect x="506.07" y="156.52" width="2.34" height="2.34" fill="#50ffaf"/>
<rect x="501.40" y="158.86" width="2.34" height="2.34" fill="#0038ff"/>
<rect x="503.73" y="158.86" width="2.34" height="2.34" fill="#d1ff2e"/>
<rect x="506.07" y="158.86" width="2.34" height="2.34" fill="#50ffaf"/>
<rect x="503.73" y="161.20" width="2.34" height="2.34" fill="#42ffbd"/>
<rect x="506.07" y="161.20" width="2.34" height="2.34" fill="#00fdff"/>
<rect x="503.73" y="163.54" width="2.34" height="2.34" fill="#00c0ff"/>
<rect x="541.12" y="149.50" width="2.34" height="2.34" fill="#006eff"/>
<rect x="541.12" y="151.84" width="2.34" height="2.34" fill="#00f0ff"/>
<rect x="543.45" y="151.84" width="2.34" height="2.34" fill="#00e2ff"/>
<rect x="538.78" y="154.18" width="2.34" height="2.34" fill="#004dff"/>
<rect x="541.12" y="154.18" width="2.34" height="2.34" fill="#35ffca"/>
<rect x="543.45" y="154.18" width="2.34" height="2.34" fill="#13ffec"/>
<rect x="538.78" y="156.52" width="2.34" height="2.34" fill="#00f0ff"/>
<rect x="541.12" y="156.52" width="2.34" height="2.34" fill="#afff50"/>
<rect x="543.45" y="156.52" width="2.34" height="2.34" fill="#3cffc3"/>
<rect x="538.78" y="158.86" width="2.34" height="2.34" fill="#00f6ff"/>
<rect x="541.12" y="158.86" width="2.34" height="2.34" fill="#caff35"/>
<rect x="543.45" y="158.86" width="2.34" height="2.34" fill="#42ffbd"/>
<rect x="538.78" y="161.20" width="2.34" height="2.34" fill="#00acff"/>
<rect x="541.12" y="161.20" width="2.34" height="2.34" fill="#50ffaf"/>
<rect x="543.45" y="161.20" width="2.34" height="2.34" fill="#00f0ff"/>
<rect x="538.78" y="163.54" width="2.34" height="2.34" fill="#0068ff"/>
<rect x="541.12" y="163.54" width="2.34" height="2.34" fill="#006eff"/>
<rect x="543.45" y="165.88" width="2.34" height="2.34" fill="#003fff"/>
<rect x="578.50" y="147.16" width="2.34" height="2.34" fill="#003fff"/>
<rect x="578.50" y="149.50" width="2.34" height="2.34" fill="#006eff"/>
<rect x="580.84" y="149.50" width="2.34" height="2.34" fill="#0068ff"/>
<rect x="578.50" y="151.84" width="2.34" height="2.34" fill="#00f0ff"/>
<rect x="580.84" y="151.84" width="2.34" height="2.34" fill="#00f0ff"/>
<rect x="576.17" y="154.18" width="2.34" height="2.34" fill="#006eff"/>
<rect x="578.50" y="154.18" width="2.34" height="2.34" fill="#3cffc3"/>
<rect x="580.84" y="154.18" width="2.34" height="2.34" fill="#13ffec"/>
<rect x="576.17" y="156.52" width="2.34" height="2.34" fill="#00c0ff"/>
<rect x="578.50" y="156.52" width="2.34" height="2.34" fill="#b6ff49"/>
<rect x="580.84" y="156.52" width="2.34" height="2.34" fill="#42ffbd"/>
<rect x="576.17" y="158.86" width="2.34" height="2.34" fill="#00e2ff"/>
<rect x="578.50" y="158.86" width="2.34" height="2.34" fill="#bdff42"/>
<rect x="580.84" y="158.86" width="2.34" height="2.34" fill="#35ffca"/>
<rect x="576.17" y="161.20" width="2.34" height="2.34" fill="#006eff"/>
<rect x="578.50" y="161.20" width="2.34" height="2.34" fill="#42ffbd"/>
<rect x="580.84" y="161.20" width="2.34" height="2.34" fill="#00f6ff"/>
<rect x="578.50" y="163.54" width="2.34" height="2.34" fill="#00e2ff"/>
<rect x="580.84" y="163.54" width="2.34" height="2.34" fill="#004dff"/>
<rect x="615.89" y="151.84" width="2.34" height="2.34" fill="#00f0ff"/>
<rect x="618.23" y="151.84" width="2.34" height="2.34" fill="#00acff"/>
<rect x="615.89" y="154.18" width="2.34" height="2.34" fill="#35ffca"/>
<rect x="618.23" y="154.18" width="2.34" height="2.34" fill="#00fdff"/>
<rect x="613.55" y="156.52" width="2.34" height="2.34" fill="#00e9ff"/>
<rect x="615.89" y="156.52" width="2.34" height="2.34" fill="#86ff79"/>
<rect x="618.23" y="156.52" width="2.34" height="2.34" fill="#13ffec"/>
<rect x="613.55" y="158.86" width="2.34" height="2.34" fill="#00f0ff"/>
<rect x="615.89" y="158.86" width="2.34" height="2.34" fill="#caff35"/>
<rect x="618.23" y="158.86" width="2.34" height="2.34" fill="#13ffec"/>
<rect x="613.55" y="161.20" width="2.34" height="2.34" fill="#00acff"/>
<rect x="615.89" y="161.20" width="2.34" height="2.34" fill="#42ffbd"/>
<rect x="618.23" y="161.20" width="2.34" height="2.34" fill="#00c0ff"/>
<rect x="615.89" y="163.54" width="2.34" height="2.34" fill="#00e2ff"/>
<rect x="653.28" y="149.50" width="2.34" height="2.34" fill="#0075ff"/>
<rect x="655.61" y="149.50" width="2.34" height="2.34" fill="#005aff"/>
<rect x="650.94" y="151.84" width="2.34" height="2.34" fill="#003fff"/>
<rect x="653.28" y="151.84" width="2.34" height="2.34" fill="#00e9ff"/>
<rect x="655.61" y="151.84" width="2.34" height="2.34" fill="#00c0ff"/>
<rect x="650.94" y="154.18" width="2.34" height="2.34" fill="#00f0ff"/>
<rect x="653.28" y="154.18" width="2.34" height="2.34" fill="#42ffbd"/>
<rect x="655.61" y="154.18" width="2.34" height="2.34" fill="#00fdff"/>
<rect x="650.94" y="156.52" width="2.34" height="2.34" fill="#42ffbd"/>
<rect x="653.28" y="156.52" width="2.34" height="2.34" fill="#afff50"/>
<rect x="655.61" y="156.52" width="2.34" height="2.34" fill="#27ffd8"/>
<rect x="650.94" y="158.86" width="2.34" height="2.34" fill="#64ff9b"/>
<rect x="653.28" y="158.86" width="2.34" height="2.34" fill="#bdff42"/>
<rect x="655.61" y="158.86" width="2.34" height="2.34" fill="#35ffca"/>
<rect x="650.94" y="161.20" width="2.34" height="2.34" fill="#35ffca"/>
<rect x="653.28" y="161.20" width="2.34" height="2.34" fill="#64ff9b"/>
<rect x="655.61" y="161.20" width="2.34" height="2.34" fill="#00f6ff"/>
<rect x="650.94" y="163.54" width="2.34" height="2.34" fill="#00c0ff"/>
<rect x="653.28" y="163.54" width="2.34" height="2.34" fill="#00e2ff"/>
<rect x="690.66" y="151.84" width="2.34" height="2.34" fill="#00c0ff"/>
<rect x="693.00" y="151.84" width="2.34" height="2.34" fill="#005aff"/>
<rect x="690.66" y="154.18" width="2.34" height="2.34" fill="#27ffd8"/>
<rect x="693.00" y="154.18" width="2.34" height="2.34" fill="#00f0ff"/>
<rect x="688.32" y="156.52" width="2.34" height="2.34" fill="#00f0ff"/>
<rect x="690.66" y="156.52" width="2.34" height="2.34" fill="#86ff79"/>
<rect x="693.00" y="156.52" width="2.34" height="2.34" fill="#00fdff"/>
<rect x="688.32" y="158.86" width="2.34" height="2.34" fill="#00e2ff"/>
<rect x="690.66" y="158.86" width="2.34" height="2.34" fill="#bdff42"/>
<rect x="693.00" y="158.86" width="2.34" height="2.34" fill="#00fdff"/>
<rect x="688.32" y="161.20" width="2.34" height="2.34" fill="#0083ff"/>
<rect x="690.66" y="161.20" width="2.34" height="2.34" fill="#3cffc3"/>
<rect x="693.00" y="161.20" width="2.34" height="2.34" fill="#0075ff"/>
<rect x="690.66" y="163.54" width="2.34" height="2.34" fill="#00e2ff"/>
<rect x="693.00" y="163.54" width="2.34" height="2.34" fill="#003fff"/>
<rect x="728.05" y="149.50" width="2.34" height="2.34" fill="#0038ff"/>
<rect x="730.38" y="149.50" width="2.34" height="2.34" fill="#003fff"/>
<rect x="728.05" y="151.84" width="2.34" height="2.34" fill="#00b9ff"/>
<rect x="730.38" y="151.84" width="2.34" height="2.34" fill="#00c0ff"/>
<rect x="728.05" y="154.18" width="2.34" height="2.34" fill="#13ffec"/>
<rect x="730.38" y="154.18" width="2.34" height="2.34" fill="#0cfff3"/>
<rect x="725.71" y="156.52" width="2.34" height="2.34" fill="#00e2ff"/>
<rect x="728.05" y="156.52" width="2.34" height="2.34" fill="#86ff79"/>
<rect x="730.38" y="156.52" width="2.34" height="2.34" fill="#50ffaf"/>
<rect x="725.71" y="158.86" width="2.34" height="2.34" fill="#00f6ff"/>
<rect x="728.05" y="158.86" width="2.34" height="2.34" fill="#b6ff49"/>
<rect x="730.38" y="158.86" width="2.34" height="2.34" fill="#50ffaf"/>
<rect x="725.71" y="161.20" width="2.34" height="2.34" fill="#00f0ff"/>
<rect x="728.05" y="161.20" width="2.34" height="2.34" fill="#35ffca"/>
<rect x="730.38" y="161.20" width="2.34" height="2.34" fill="#00c0ff"/>
<rect x="725.71" y="163.54" width="2.34" height="2.34" fill="#0097ff"/>
<rect x="728.05" y="163.54" width="2.34" height="2.34" fill="#00e2ff"/>
<rect x="730.38" y="163.54" width="2.34" height="2.34" fill="#0068ff"/>
<rect x="728.05" y="165.88" width="2.34" height="2.34" fill="#003fff"/>
<rect x="765.43" y="151.84" width="2.34" height="2.34" fill="#003fff"/>
<rect x="767.77" y="151.84" width="2.34" height="2.34" fill="#0068ff"/>
<rect x="765.43" y="154.18" width="2.34" height="2.34" fill="#13ffec"/>
<rect x="767.77" y="154.18" width="2.34" height="2.34" fill="#00f6ff"/>
<rect x="765.43" y="156.52" width="2.34" height="2.34" fill="#a2ff5e"/>
<rect x="767.77" y="156.52" width="2.34" height="2.34" fill="#50ffaf"/>
<rect x="765.43" y="158.86" width="2.34" height="2.34" fill="#afff50"/>
<rect x="767.77" y="158.86" width="2.34" height="2.34" fill="#42ffbd"/>
<rect x="763.10" y="161.20" width="2.34" height="2.34" fill="#0097ff"/>
<rect x="765.43" y="161.20" width="2.34" height="2.34" fill="#35ffca"/>
<rect x="767.77" y="161.20" width="2.34" height="2.34" fill="#00f6ff"/>
<rect x="765.43" y="163.54" width="2.34" height="2.34" fill="#00c0ff"/>
<rect x="805.15" y="147.16" width="2.34" height="2.34" fill="#0038ff"/>
<rect x="805.15" y="149.50" width="2.34" height="2.34" fill="#003fff"/>
<rect x="802.82" y="151.84" width="2.34" height="2.34" fill="#0097ff"/>
<rect x="802.82" y="154.18" width="2.34" height="2.34" fill="#00fdff"/>
<rect x="805.15" y="154.18" width="2.34" height="2.34" fill="#00acff"/>
<rect x="800.48" y="156.52" width="2.34" height="2.34" fill="#0097ff"/>
<rect x="802.82" y="156.52" width="2.34" height="2.34" fill="#86ff79"/>
<rect x="805.15" y="156.52" width="2.34" height="2.34" fill="#00e9ff"/>
<rect x="800.48" y="158.86" width="2.34" height="2.34" fill="#00e2ff"/>
<rect x="802.82" y="158.86" width="2.34" height="2.34" fill="#a2ff5e"/>
<rect x="805.15" y="158.86" width="2.34" height="2.34" fill="#00c0ff"/>
<rect x="800.48" y="161.20" width="2.34" height="2.34" fill="#003fff"/>
<rect x="802.82" y="161.20" width="2.34" height="2.34" fill="#27ffd8"/>
<rect x="800.48" y="163.54" width="2.34" height="2.34" fill="#0038ff"/>
<rect x="802.82" y="163.54" width="2.34" height="2.34" fill="#005aff"/>
<rect x="842.54" y="149.50" width="2.34" height="2.34" fill="#003fff"/>
<rect x="840.20" y="151.84" width="2.34" height="2.34" fill="#00acff"/>
<rect x="842.54" y="151.84" width="2.34" height="2.34" fill="#00c0ff"/>
<rect x="840.20" y="154.18" width="2.34" height="2.34" fill="#00f0ff"/>
<rect x="842.54" y="154.18" width="2.34" height="2.34" fill="#00f0ff"/>
<rect x="837.87" y="156.52" width="2.34" height="2.34" fill="#0097ff"/>
<rect x="840.20" y="156.52" width="2.34" height="2.34" fill="#6bff94"/>
<rect x="842.54" y="156.52" width="2.34" height="2.34" fill="#27ffd8"/>
<rect x="837.87" y="158.86" width="2.34" height="2.34" fill="#0038ff"/>
<rect x="840.20" y="158.86" width="2.34" height="2.34" fill="#86ff79"/>
<rect x="842.54" y="158.86" width="2.34" height="2.34" fill="#27ffd8"/>
<rect x="840.20" y="161.20" width="2.34" height="2.34" fill="#27ffd8"/>
<rect x="842.54" y="161.20" width="2.34" height="2.34" fill="#00f6ff"/>
<rect x="840.20" y="163.54" width="2.34" height="2.34" fill="#00e2ff"/>
<rect x="840.20" y="165.88" width="2.34" height="2.34" fill="#004dff"/>
<rect x="211.66" y="147.16" width="2.34" height="2.34" fill="#0031ff"/>
<rect x="204.65" y="170.56" width="2.34" height="2.34" fill="#0031ff"/>
<rect x="216.33" y="170.56" width="2.34" height="2.34" fill="#0031ff"/>
<rect x="253.72" y="156.52" width="2.34" height="2.34" fill="#0038ff"/>
<rect x="270.07" y="163.54" width="2.34" height="2.34" fill="#0038ff"/>
<rect x="293.44" y="154.18" width="2.34" height="2.34" fill="#0031ff"/>
<rect x="337.83" y="179.92" width="2.34" height="2.34" fill="#0038ff"/>
<rect x="391.58" y="147.16" width="2.34" height="2.34" fill="#0038ff"/>
<rect x="412.61" y="184.60" width="2.34" height="2.34" fill="#003fff"/>
<rect x="454.66" y="142.48" width="2.34" height="2.34" fill="#0031ff"/>
<rect x="482.70" y="168.22" width="2.34" height="2.34" fill="#003fff"/>
<rect x="492.05" y="184.60" width="2.34" height="2.34" fill="#003fff"/>
<rect x="517.75" y="158.86" width="2.34" height="2.34" fill="#0046ff"/>
<rect x="517.75" y="161.20" width="2.34" height="2.34" fill="#0046ff"/>
<rect x="538.78" y="144.82" width="2.34" height="2.34" fill="#0031ff"/>
<rect x="543.45" y="144.82" width="2.34" height="2.34" fill="#0038ff"/>
<rect x="550.46" y="140.14" width="2.34" height="2.34" fill="#003fff"/>
<rect x="564.48" y="149.50" width="2.34" height="2.34" fill="#0038ff"/>
<rect x="615.89" y="142.48" width="2.34" height="2.34" fill="#0038ff"/>
<rect x="606.54" y="158.86" width="2.34" height="2.34" fill="#003fff"/>
<rect x="620.56" y="158.86" width="2.34" height="2.34" fill="#0038ff"/>
<rect x="653.28" y="168.22" width="2.34" height="2.34" fill="#0068ff"/>
<rect x="667.29" y="158.86" width="2.34" height="2.34" fill="#003fff"/>
<rect x="721.04" y="179.92" width="2.34" height="2.34" fill="#003fff"/>
<rect x="760.76" y="170.56" width="2.34" height="2.34" fill="#003fff"/>
<rect x="781.79" y="182.26" width="2.34" height="2.34" fill="#003fff"/>
<rect x="802.82" y="140.14" width="2.34" height="2.34" fill="#0024ff"/>
<rect x="854.22" y="172.90" width="2.34" height="2.34" fill="#004dff"/>
<rect x="206.98" y="130.78" width="2.34" height="2.34" fill="#002aff"/>
<rect x="206.98" y="133.12" width="2.34" height="2.34" fill="#0031ff"/>
<rect x="206.98" y="135.46" width="2.34" height="2.34" fill="#00c0ff"/>
<rect x="206.98" y="137.80" width="2.34" height="2.34" fill="#0083ff"/>
</g>
<g class="ax">
<rect x="133" y="58" width="733" height="1" fill="#262626"/>
<rect x="133" y="319" width="733" height="1" fill="#262626"/>
<rect x="133" y="58" width="1" height="262" fill="#262626"/>
<rect x="865" y="58" width="1" height="262" fill="#262626"/>
<rect x="133" y="319" width="1" height="8.3" fill="#262626"/>
<rect x="133" y="50" width="1" height="9" fill="#262626"/>
<rect x="249" y="319" width="1" height="8.3" fill="#262626"/>
<rect x="249" y="50" width="1" height="9" fill="#262626"/>
<rect x="366" y="319" width="1" height="8.3" fill="#262626"/>
<rect x="366" y="50" width="1" height="9" fill="#262626"/>
<rect x="483" y="319" width="1" height="8.3" fill="#262626"/>
<rect x="483" y="50" width="1" height="9" fill="#262626"/>
<rect x="600" y="319" width="1" height="8.3" fill="#262626"/>
<rect x="600" y="50" width="1" height="9" fill="#262626"/>
<rect x="717" y="319" width="1" height="8.3" fill="#262626"/>
<rect x="717" y="50" width="1" height="9" fill="#262626"/>
<rect x="834" y="319" width="1" height="8.3" fill="#262626"/>
<rect x="834" y="50" width="1" height="9" fill="#262626"/>
<rect x="129" y="319" width="5" height="1" fill="#262626"/>
<rect x="865" y="319" width="5" height="1" fill="#262626"/>
<rect x="129" y="315" width="5" height="1" fill="#262626"/>
<rect x="865" y="315" width="5" height="1" fill="#262626"/>
<rect x="129" y="311" width="5" height="1" fill="#262626"/>
<rect x="865" y="311" width="5" height="1" fill="#262626"/>
<rect x="129" y="307" width="5" height="1" fill="#262626"/>
<rect x="865" y="307" width="5" height="1" fill="#262626"/>
<rect x="125" y="304" width="9" height="1" fill="#262626"/>
<rect x="865" y="304" width="9" height="1" fill="#262626"/>
<rect x="129" y="284" width="5" height="1" fill="#262626"/>
<rect x="865" y="284" width="5" height="1" fill="#262626"/>
<rect x="129" y="272" width="5" height="1" fill="#262626"/>
<rect x="865" y="272" width="5" height="1" fill="#262626"/>
<rect x="129" y="263" width="5" height="1" fill="#262626"/>
<rect x="865" y="263" width="5" height="1" fill="#262626"/>
<rect x="129" y="256" width="5" height="1" fill="#262626"/>
<rect x="865" y="256" width="5" height="1" fill="#262626"/>
<rect x="129" y="251" width="5" height="1" fill="#262626"/>
<rect x="865" y="251" width="5" height="1" fill="#262626"/>
<rect x="129" y="246" width="5" height="1" fill="#262626"/>
<rect x="865" y="246" width="5" height="1" fill="#262626"/>
<rect x="129" y="242" width="5" height="1" fill="#262626"/>
<rect x="865" y="242" width="5" height="1" fill="#262626"/>
<rect x="129" y="239" width="5" height="1" fill="#262626"/>
<rect x="865" y="239" width="5" height="1" fill="#262626"/>
<rect x="125" y="236" width="9" height="1" fill="#262626"/>
<rect x="865" y="236" width="9" height="1" fill="#262626"/>
<rect x="129" y="215" width="5" height="1" fill="#262626"/>
<rect x="865" y="215" width="5" height="1" fill="#262626"/>
<rect x="129" y="203" width="5" height="1" fill="#262626"/>
<rect x="865" y="203" width="5" height="1" fill="#262626"/>
<rect x="129" y="195" width="5" height="1" fill="#262626"/>
<rect x="865" y="195" width="5" height="1" fill="#262626"/>
<rect x="129" y="188" width="5" height="1" fill="#262626"/>
<rect x="865" y="188" width="5" height="1" fill="#262626"/>
<rect x="129" y="182" width="5" height="1" fill="#262626"/>
<rect x="865" y="182" width="5" height="1" fill="#262626"/>
<rect x="129" y="178" width="5" height="1" fill="#262626"/>
<rect x="865" y="178" width="5" height="1" fill="#262626"/>
<rect x="129" y="174" width="5" height="1" fill="#262626"/>
<rect x="865" y="174" width="5" height="1" fill="#262626"/>
<rect x="129" y="170" width="5" height="1" fill="#262626"/>
<rect x="865" y="170" width="5" height="1" fill="#262626"/>
<rect x="125" y="167" width="9" height="1" fill="#262626"/>
<rect x="865" y="167" width="9" height="1" fill="#262626"/>
<rect x="129" y="147" width="5" height="1" fill="#262626"/>
<rect x="865" y="147" width="5" height="1" fill="#262626"/>
<rect x="129" y="135" width="5" height="1" fill="#262626"/>
<rect x="865" y="135" width="5" height="1" fill="#262626"/>
<rect x="129" y="126" width="5" height="1" fill="#262626"/>
<rect x="865" y="126" width="5" height="1" fill="#262626"/>
<rect x="129" y="119" width="5" height="1" fill="#262626"/>
<rect x="865" y="119" width="5" height="1" fill="#262626"/>
<rect x="129" y="114" width="5" height="1" fill="#262626"/>
<rect x="865" y="114" width="5" height="1" fill="#262626"/>
<rect x="129" y="109" width="5" height="1" fill="#262626"/>
<rect x="865" y="109" width="5" height="1" fill="#262626"/>
<rect x="129" y="105" width="5" height="1" fill="#262626"/>
<rect x="865" y="105" width="5" height="1" fill="#262626"/>
<rect x="129" y="102" width="5" height="1" fill="#262626"/>
<rect x="865" y="102" width="5" height="1" fill="#262626"/>
<rect x="125" y="99" width="9" height="1" fill="#262626"/>
<rect x="865" y="99" width="9" height="1" fill="#262626"/>
<rect x="129" y="78" width="5" height="1" fill="#262626"/>
<rect x="865" y="78" width="5" height="1" fill="#262626"/>
<rect x="129" y="66" width="5" height="1" fill="#262626"/>
<rect x="865" y="66" width="5" height="1" fill="#262626"/>
<rect x="129" y="58" width="5" height="1" fill="#262626"/>
<rect x="865" y="58" width="5" height="1" fill="#262626"/>
<rect x="873" y="58" width="24" height="262" fill="url(#jet)"/>
<rect x="873.5" y="58.5" width="23" height="261" fill="none" stroke="#262626" stroke-width="1"/>
<rect x="894" y="250" width="3" height="1" fill="#262626"/>
<rect x="894" y="180" width="3" height="1" fill="#262626"/>
<rect x="894" y="110" width="3" height="1" fill="#262626"/>
</g>
<text transform="translate(132.9 351.2) scale(1 1)" text-anchor="middle" class="t">16:00</text>
<text transform="translate(248.9 351.2) scale(1 1)" text-anchor="middle" class="t">16:10</text>
<text transform="translate(365.9 351.2) scale(1 1)" text-anchor="middle" class="t">16:20</text>
<text transform="translate(482.9 351.2) scale(1 1)" text-anchor="middle" class="t">16:30</text>
<text transform="translate(599.9 351.2) scale(1 1)" text-anchor="middle" class="t">16:40</text>
<text transform="translate(716.9 351.2) scale(1 1)" text-anchor="middle" class="t">16:50</text>
<text transform="translate(833.9 351.2) scale(1 1)" text-anchor="middle" class="t">17:00</text>
<text transform="translate(90 311) scale(1 1)" text-anchor="middle" class="t">10</text>
<text transform="translate(90 242) scale(1 1)" text-anchor="middle" class="t">100</text>
<text transform="translate(90 174) scale(1 1)" text-anchor="middle" class="t">1000</text>
<text transform="translate(90 105) scale(1 1)" text-anchor="middle" class="t">10000</text>
<text transform="translate(903 326) scale(1 1)" class="t">0</text>
<text transform="translate(903 256) scale(1 1)" class="t">2</text>
<text transform="translate(903 186) scale(1 1)" class="t">4</text>
<text transform="translate(903 116) scale(1 1)" class="t">6</text>
<text transform="translate(52 189.5) rotate(-90) scale(1 1)" text-anchor="middle" class="l">Energy (eV)</text>
<text transform="translate(499.5 376) scale(1 1)" text-anchor="middle" class="l">Time</text>
<text transform="translate(500.2 48.7) scale(1 1)" text-anchor="middle" class="h">Solar Wind Ions</text>
<text transform="translate(885 47.2) scale(1 1)" text-anchor="middle" class="f">Flux</text>
<text transform="translate(943 258.8) rotate(-90) scale(1 1)" class="t"><tspan x="-0.8" dy="0">eV</tspan><tspan x="23.0" dy="-9" class="sup">-1</tspan><tspan x="38.1" dy="9">cm</tspan><tspan x="65.65" dy="-9" class="sup">-2</tspan><tspan x="81.0" dy="9">sr</tspan><tspan x="98.3" dy="-9" class="sup">-1</tspan><tspan x="112.9" dy="9">s</tspan><tspan x="123.3" dy="-9" class="sup">-1</tspan></text>
</g>
<g id="cometary">
<g class="d">
<rect x="134.55" y="650.49" width="2.84" height="10.54" fill="#00fdff"/>
<rect x="134.55" y="660.04" width="2.34" height="15.78" fill="#0cfff3"/>
<rect x="136.89" y="643.00" width="2.34" height="8.00" fill="#42ffbd"/>
<rect x="136.39" y="649.99" width="3.34" height="10.54" fill="#79ff86"/>
<rect x="138.72" y="650.49" width="2.84" height="10.54" fill="#79ff86"/>
<rect x="139.22" y="660.04" width="2.34" height="16.28" fill="#86ff79"/>
<rect x="139.22" y="675.31" width="2.34" height="8.19" fill="#1affe5"/>
<rect x="169.60" y="660.54" width="2.84" height="15.28" fill="#a2ff5e"/>
<rect x="171.94" y="650.49" width="2.84" height="10.54" fill="#27ffd8"/>
<rect x="171.44" y="660.04" width="2.84" height="15.78" fill="#00fdff"/>
<rect x="173.77" y="650.49" width="2.84" height="10.04" fill="#35ffca"/>
<rect x="206.98" y="650.49" width="2.34" height="10.54" fill="#e5ff1a"/>
<rect x="206.98" y="660.04" width="2.34" height="16.28" fill="#fff700"/>
<rect x="206.98" y="675.31" width="2.34" height="8.19" fill="#00fdff"/>
<rect x="211.66" y="650.49" width="2.84" height="10.54" fill="#a2ff5e"/>
<rect x="211.66" y="660.04" width="2.84" height="15.78" fill="#27ffd8"/>
<rect x="213.99" y="643.00" width="2.34" height="8.00" fill="#0cfff3"/>
<rect x="213.49" y="649.99" width="2.84" height="11.04" fill="#64ff9b"/>
<rect x="213.49" y="660.04" width="2.84" height="15.78" fill="#00fdff"/>
<rect x="244.37" y="650.49" width="2.84" height="10.04" fill="#a2ff5e"/>
<rect x="246.21" y="650.49" width="2.84" height="10.04" fill="#1affe5"/>
<rect x="249.04" y="660.54" width="2.84" height="15.28" fill="#35ffca"/>
<rect x="250.88" y="660.54" width="2.84" height="15.28" fill="#42ffbd"/>
<rect x="281.76" y="650.49" width="2.34" height="10.54" fill="#35ffca"/>
<rect x="281.76" y="660.04" width="2.84" height="15.78" fill="#27ffd8"/>
<rect x="283.59" y="660.54" width="2.84" height="15.28" fill="#00fdff"/>
<rect x="288.77" y="650.49" width="2.34" height="10.54" fill="#42ffbd"/>
<rect x="288.77" y="660.04" width="2.34" height="15.78" fill="#42ffbd"/>
<rect x="319.14" y="650.49" width="2.84" height="10.54" fill="#00f0ff"/>
<rect x="319.14" y="660.04" width="2.84" height="15.78" fill="#afff50"/>
<rect x="320.98" y="650.49" width="3.34" height="10.54" fill="#6bff94"/>
<rect x="320.98" y="660.04" width="3.34" height="15.78" fill="#27ffd8"/>
<rect x="323.31" y="650.49" width="2.84" height="10.54" fill="#27ffd8"/>
<rect x="323.31" y="660.04" width="2.84" height="15.78" fill="#27ffd8"/>
<rect x="356.53" y="650.49" width="2.84" height="10.54" fill="#86ff79"/>
<rect x="356.53" y="660.04" width="2.84" height="15.78" fill="#6bff94"/>
<rect x="358.36" y="650.49" width="3.34" height="10.54" fill="#86ff79"/>
<rect x="358.36" y="660.04" width="2.84" height="15.78" fill="#50ffaf"/>
<rect x="360.70" y="650.49" width="3.34" height="10.04" fill="#27ffd8"/>
<rect x="363.04" y="650.49" width="2.84" height="10.04" fill="#27ffd8"/>
<rect x="393.91" y="650.49" width="2.34" height="10.54" fill="#a2ff5e"/>
<rect x="393.91" y="660.04" width="2.84" height="15.78" fill="#42ffbd"/>
<rect x="395.75" y="660.54" width="3.34" height="15.28" fill="#42ffbd"/>
<rect x="398.09" y="660.54" width="3.34" height="15.28" fill="#50ffaf"/>
<rect x="400.92" y="650.49" width="2.34" height="10.54" fill="#1affe5"/>
<rect x="400.42" y="660.04" width="2.84" height="15.78" fill="#27ffd8"/>
<rect x="475.69" y="643.00" width="2.34" height="8.00" fill="#00fdff"/>
<rect x="475.69" y="649.99" width="2.34" height="11.04" fill="#00fdff"/>
<rect x="475.69" y="660.04" width="2.34" height="15.78" fill="#6bff94"/>
<rect x="506.07" y="650.49" width="2.84" height="10.54" fill="#79ff86"/>
<rect x="506.07" y="660.04" width="2.84" height="15.78" fill="#79ff86"/>
<rect x="507.91" y="650.49" width="3.34" height="10.54" fill="#50ffaf"/>
<rect x="507.91" y="660.04" width="3.34" height="15.78" fill="#6bff94"/>
<rect x="510.24" y="650.49" width="2.84" height="10.54" fill="#79ff86"/>
<rect x="510.24" y="660.04" width="3.34" height="15.78" fill="#35ffca"/>
<rect x="512.58" y="660.54" width="2.84" height="15.28" fill="#35ffca"/>
<rect x="543.45" y="650.49" width="2.34" height="10.54" fill="#6bff94"/>
<rect x="543.45" y="660.04" width="2.84" height="15.78" fill="#42ffbd"/>
<rect x="545.29" y="660.54" width="3.34" height="15.28" fill="#27ffd8"/>
<rect x="548.13" y="650.49" width="2.84" height="10.54" fill="#42ffbd"/>
<rect x="547.63" y="660.04" width="3.34" height="15.78" fill="#00fdff"/>
<rect x="549.96" y="650.49" width="2.84" height="10.54" fill="#27ffd8"/>
<rect x="549.96" y="660.04" width="2.84" height="15.78" fill="#50ffaf"/>
<rect x="583.18" y="660.54" width="2.84" height="15.78" fill="#42ffbd"/>
<rect x="583.18" y="675.31" width="2.34" height="8.19" fill="#42ffbd"/>
<rect x="585.01" y="660.54" width="2.84" height="15.28" fill="#6bff94"/>
<rect x="655.61" y="650.49" width="2.84" height="10.54" fill="#6bff94"/>
<rect x="655.61" y="660.04" width="2.84" height="15.78" fill="#1affe5"/>
<rect x="657.45" y="650.49" width="3.34" height="10.54" fill="#00fdff"/>
<rect x="657.45" y="660.04" width="3.34" height="15.78" fill="#6bff94"/>
<rect x="659.78" y="650.49" width="3.34" height="10.54" fill="#1affe5"/>
<rect x="659.78" y="660.04" width="3.34" height="15.78" fill="#a2ff5e"/>
<rect x="662.62" y="643.00" width="2.34" height="8.00" fill="#5effa2"/>
<rect x="662.12" y="649.99" width="2.84" height="11.04" fill="#a2ff5e"/>
<rect x="662.12" y="660.04" width="2.84" height="15.78" fill="#afff50"/>
<rect x="693.00" y="650.49" width="2.84" height="10.54" fill="#6bff94"/>
<rect x="693.00" y="660.04" width="2.84" height="15.78" fill="#d8ff27"/>
<rect x="694.83" y="650.49" width="3.34" height="10.54" fill="#50ffaf"/>
<rect x="694.83" y="660.04" width="2.84" height="15.78" fill="#bdff42"/>
<rect x="697.17" y="650.49" width="2.84" height="10.04" fill="#00fdff"/>
<rect x="730.38" y="660.54" width="2.84" height="15.28" fill="#afff50"/>
<rect x="732.22" y="660.54" width="3.34" height="15.28" fill="#a2ff5e"/>
<rect x="734.56" y="660.54" width="3.34" height="15.28" fill="#86ff79"/>
<rect x="737.39" y="650.49" width="2.34" height="10.54" fill="#6bff94"/>
<rect x="736.89" y="660.04" width="2.84" height="15.78" fill="#94ff6b"/>
<rect x="770.11" y="650.49" width="2.84" height="10.54" fill="#6bff94"/>
<rect x="770.11" y="660.04" width="2.84" height="15.78" fill="#94ff6b"/>
<rect x="771.94" y="650.49" width="2.84" height="10.54" fill="#6bff94"/>
<rect x="771.94" y="660.04" width="2.84" height="15.78" fill="#94ff6b"/>
<rect x="805.15" y="650.49" width="2.84" height="10.54" fill="#00f0ff"/>
<rect x="805.15" y="660.04" width="2.84" height="15.78" fill="#79ff86"/>
<rect x="806.99" y="650.49" width="2.84" height="10.54" fill="#6bff94"/>
<rect x="806.99" y="660.04" width="3.34" height="15.78" fill="#50ffaf"/>
<rect x="809.33" y="660.54" width="3.34" height="15.28" fill="#27ffd8"/>
<rect x="812.16" y="650.49" width="2.34" height="10.54" fill="#50ffaf"/>
<rect x="811.66" y="660.04" width="2.84" height="15.78" fill="#6bff94"/>
<rect x="842.54" y="650.49" width="2.84" height="10.54" fill="#6bff94"/>
<rect x="842.54" y="660.04" width="2.84" height="15.78" fill="#79ff86"/>
<rect x="844.38" y="650.49" width="3.34" height="10.54" fill="#00f0ff"/>
<rect x="844.38" y="660.04" width="3.34" height="15.78" fill="#a2ff5e"/>
<rect x="847.21" y="643.00" width="2.34" height="8.00" fill="#00fdff"/>
<rect x="846.71" y="649.99" width="3.34" height="11.04" fill="#79ff86"/>
<rect x="846.71" y="660.04" width="3.34" height="15.78" fill="#a2ff5e"/>
<rect x="849.05" y="650.49" width="2.84" height="10.54" fill="#6bff94"/>
<rect x="849.05" y="660.04" width="2.84" height="15.78" fill="#94ff6b"/>
<rect x="167.26" y="518.18" width="2.34" height="2.84" fill="#003fff"/>
<rect x="164.93" y="520.52" width="2.84" height="2.84" fill="#00acff"/>
<rect x="166.76" y="520.02" width="2.84" height="3.34" fill="#0097ff"/>
<rect x="164.93" y="522.36" width="2.84" height="3.34" fill="#00c0ff"/>
<rect x="166.76" y="522.36" width="2.84" height="2.84" fill="#0097ff"/>
<rect x="164.93" y="524.70" width="2.34" height="2.84" fill="#0097ff"/>
<rect x="204.65" y="518.18" width="2.84" height="2.84" fill="#004dff"/>
<rect x="206.48" y="518.18" width="2.84" height="2.84" fill="#003fff"/>
<rect x="202.31" y="520.52" width="2.84" height="2.84" fill="#0024ff"/>
<rect x="204.15" y="520.02" width="3.34" height="3.34" fill="#00f0ff"/>
<rect x="206.48" y="520.02" width="2.84" height="3.34" fill="#004dff"/>
<rect x="202.31" y="522.36" width="2.84" height="3.34" fill="#0038ff"/>
<rect x="204.15" y="522.36" width="3.34" height="3.34" fill="#00f6ff"/>
<rect x="206.48" y="522.36" width="2.84" height="2.84" fill="#0053ff"/>
<rect x="202.31" y="524.70" width="2.84" height="2.84" fill="#003fff"/>
<rect x="204.15" y="524.70" width="2.84" height="2.84" fill="#0068ff"/>
<rect x="242.03" y="518.18" width="2.84" height="2.84" fill="#0068ff"/>
<rect x="243.87" y="518.18" width="2.84" height="2.84" fill="#004dff"/>
<rect x="242.03" y="520.02" width="2.84" height="3.34" fill="#00f0ff"/>
<rect x="243.87" y="520.02" width="2.84" height="3.34" fill="#0097ff"/>
<rect x="239.70" y="522.86" width="2.84" height="2.34" fill="#009eff"/>
<rect x="241.53" y="522.36" width="3.34" height="3.34" fill="#00f6ff"/>
<rect x="243.87" y="522.36" width="2.84" height="2.84" fill="#005aff"/>
<rect x="242.03" y="524.70" width="2.34" height="2.84" fill="#004dff"/>
<rect x="279.42" y="518.18" width="2.34" height="2.84" fill="#004dff"/>
<rect x="279.42" y="520.02" width="2.84" height="3.34" fill="#00e2ff"/>
<rect x="281.26" y="520.52" width="2.84" height="2.34" fill="#0068ff"/>
<rect x="277.08" y="522.86" width="2.84" height="2.84" fill="#0068ff"/>
<rect x="278.92" y="522.36" width="2.84" height="3.34" fill="#00f0ff"/>
<rect x="277.08" y="524.70" width="2.84" height="2.84" fill="#004dff"/>
<rect x="278.92" y="524.70" width="2.84" height="2.84" fill="#0068ff"/>
<rect x="316.80" y="518.18" width="2.34" height="2.84" fill="#004dff"/>
<rect x="316.80" y="520.02" width="2.34" height="3.34" fill="#00c0ff"/>
<rect x="314.47" y="522.86" width="2.84" height="2.34" fill="#004dff"/>
<rect x="316.30" y="522.36" width="3.34" height="2.84" fill="#00fdff"/>
<rect x="318.64" y="522.86" width="2.84" height="2.34" fill="#003fff"/>
<rect x="354.19" y="515.84" width="2.34" height="2.84" fill="#003fff"/>
<rect x="354.19" y="517.68" width="2.34" height="3.34" fill="#005aff"/>
<rect x="351.85" y="520.52" width="2.84" height="2.84" fill="#005aff"/>
<rect x="353.69" y="520.02" width="2.84" height="3.34" fill="#00c0ff"/>
<rect x="351.85" y="522.36" width="2.84" height="2.84" fill="#0097ff"/>
<rect x="353.69" y="522.36" width="2.84" height="3.34" fill="#00fdff"/>
<rect x="354.19" y="524.70" width="2.34" height="2.84" fill="#0097ff"/>
<rect x="391.58" y="520.52" width="2.34" height="2.84" fill="#00c7ff"/>
<rect x="389.24" y="522.86" width="2.84" height="2.34" fill="#00acff"/>
<rect x="391.08" y="522.36" width="2.84" height="3.34" fill="#00fdff"/>
<rect x="391.58" y="524.70" width="2.34" height="2.84" fill="#003fff"/>
<rect x="428.96" y="518.18" width="2.34" height="2.84" fill="#003fff"/>
<rect x="428.96" y="520.02" width="2.34" height="3.34" fill="#00f0ff"/>
<rect x="428.96" y="522.36" width="2.34" height="3.34" fill="#00fdff"/>
<rect x="428.96" y="524.70" width="2.34" height="2.84" fill="#004dff"/>
<rect x="468.68" y="518.18" width="2.34" height="2.84" fill="#0038ff"/>
<rect x="466.35" y="520.52" width="2.84" height="2.84" fill="#0cfff3"/>
<rect x="468.18" y="520.02" width="2.84" height="2.84" fill="#003fff"/>
<rect x="464.01" y="522.86" width="2.84" height="2.34" fill="#0024ff"/>
<rect x="465.85" y="522.36" width="2.84" height="3.34" fill="#00fdff"/>
<rect x="466.35" y="524.70" width="2.34" height="2.84" fill="#0068ff"/>
<rect x="503.73" y="518.18" width="2.84" height="2.84" fill="#003fff"/>
<rect x="505.57" y="518.18" width="2.84" height="2.84" fill="#003fff"/>
<rect x="503.73" y="520.02" width="2.84" height="3.34" fill="#00f6ff"/>
<rect x="505.57" y="520.02" width="2.84" height="3.34" fill="#0068ff"/>
<rect x="503.73" y="522.36" width="2.84" height="3.34" fill="#00f0ff"/>
<rect x="505.57" y="522.36" width="2.84" height="2.84" fill="#0031ff"/>
<rect x="503.73" y="524.70" width="2.34" height="2.84" fill="#004dff"/>
<rect x="538.78" y="520.52" width="2.84" height="2.84" fill="#004dff"/>
<rect x="540.62" y="520.52" width="3.34" height="2.84" fill="#00f6ff"/>
<rect x="542.95" y="520.52" width="2.84" height="2.84" fill="#0068ff"/>
<rect x="538.78" y="522.36" width="2.84" height="2.84" fill="#004dff"/>
<rect x="540.62" y="522.36" width="3.34" height="3.34" fill="#00fdff"/>
<rect x="542.95" y="522.36" width="2.84" height="2.84" fill="#003fff"/>
<rect x="541.12" y="524.70" width="2.34" height="2.84" fill="#0097ff"/>
<rect x="578.50" y="518.18" width="2.34" height="2.84" fill="#0097ff"/>
<rect x="578.50" y="520.02" width="2.84" height="3.34" fill="#0cfff3"/>
<rect x="580.34" y="520.52" width="2.84" height="2.84" fill="#004dff"/>
<rect x="578.50" y="522.36" width="2.84" height="3.34" fill="#0cfff3"/>
<rect x="580.34" y="522.36" width="2.84" height="2.84" fill="#0038ff"/>
<rect x="578.50" y="524.70" width="2.34" height="2.84" fill="#0068ff"/>
<rect x="615.89" y="520.52" width="2.84" height="2.84" fill="#00f6ff"/>
<rect x="617.73" y="520.52" width="2.84" height="2.34" fill="#0075ff"/>
<rect x="613.55" y="522.86" width="2.84" height="2.34" fill="#004dff"/>
<rect x="615.39" y="522.36" width="2.84" height="3.34" fill="#00f6ff"/>
<rect x="615.89" y="524.70" width="2.34" height="2.84" fill="#003fff"/>
<rect x="653.28" y="518.18" width="2.34" height="2.84" fill="#0075ff"/>
<rect x="650.94" y="520.52" width="2.84" height="2.84" fill="#0083ff"/>
<rect x="652.78" y="520.02" width="3.34" height="3.34" fill="#00f0ff"/>
<rect x="655.11" y="520.52" width="2.84" height="2.84" fill="#0075ff"/>
<rect x="650.94" y="522.36" width="2.84" height="2.84" fill="#0075ff"/>
<rect x="652.78" y="522.36" width="3.34" height="2.84" fill="#0cfff3"/>
<rect x="655.11" y="522.36" width="2.84" height="2.84" fill="#0016ff"/>
<rect x="690.66" y="518.18" width="2.34" height="2.84" fill="#002aff"/>
<rect x="690.66" y="520.02" width="2.34" height="3.34" fill="#0cfff3"/>
<rect x="688.32" y="522.86" width="2.84" height="2.34" fill="#003fff"/>
<rect x="690.16" y="522.36" width="2.84" height="3.34" fill="#00fdff"/>
<rect x="690.66" y="524.70" width="2.34" height="2.84" fill="#0031ff"/>
<rect x="730.38" y="518.18" width="2.34" height="2.84" fill="#004dff"/>
<rect x="728.05" y="520.52" width="2.84" height="2.84" fill="#0cfff3"/>
<rect x="729.88" y="520.02" width="2.84" height="3.34" fill="#0068ff"/>
<rect x="728.05" y="522.36" width="2.84" height="3.34" fill="#00fdff"/>
<rect x="729.88" y="522.36" width="2.84" height="2.84" fill="#004dff"/>
<rect x="728.05" y="524.70" width="2.34" height="2.84" fill="#00acff"/>
<rect x="765.43" y="520.52" width="2.84" height="2.84" fill="#00f0ff"/>
<rect x="767.27" y="520.52" width="2.84" height="2.84" fill="#00c0ff"/>
<rect x="765.43" y="522.36" width="2.84" height="2.84" fill="#00f0ff"/>
<rect x="767.27" y="522.36" width="2.84" height="2.84" fill="#009eff"/>
<rect x="802.82" y="520.52" width="2.34" height="2.84" fill="#00f0ff"/>
<rect x="800.48" y="522.86" width="2.84" height="2.34" fill="#002aff"/>
<rect x="802.32" y="522.36" width="2.84" height="3.34" fill="#00f0ff"/>
<rect x="802.82" y="524.70" width="2.34" height="2.84" fill="#005aff"/>
<rect x="840.20" y="520.52" width="2.84" height="2.84" fill="#00f0ff"/>
<rect x="842.04" y="520.52" width="2.84" height="2.84" fill="#00c0ff"/>
<rect x="840.20" y="522.36" width="2.84" height="3.34" fill="#00e2ff"/>
<rect x="842.04" y="522.36" width="2.84" height="2.84" fill="#0038ff"/>
<rect x="840.20" y="524.70" width="2.34" height="2.84" fill="#0075ff"/>
<rect x="223.34" y="476.06" width="2.34" height="2.34" fill="#0000fa"/>
<rect x="221.00" y="584.35" width="2.34" height="2.18" fill="#0090ff"/>
<rect x="284.09" y="576.73" width="2.34" height="3.30" fill="#005aff"/>
<rect x="316.80" y="576.73" width="2.34" height="3.30" fill="#005aff"/>
<rect x="608.88" y="586.23" width="2.34" height="2.30" fill="#005aff"/>
<rect x="613.55" y="607.98" width="2.34" height="2.30" fill="#00c7ff"/>
<rect x="522.43" y="614.98" width="2.34" height="2.80" fill="#00acff"/>
<rect x="216.33" y="632.04" width="2.34" height="4.98" fill="#00c7ff"/>
<rect x="473.36" y="627.77" width="2.34" height="4.26" fill="#00acff"/>
<rect x="524.76" y="643.00" width="2.34" height="7.50" fill="#00e2ff"/>
<rect x="737.39" y="627.77" width="2.34" height="4.26" fill="#00acff"/>
<rect x="788.80" y="620.73" width="2.34" height="3.31" fill="#00acff"/>
<rect x="134.55" y="650.49" width="2.34" height="10.04" fill="#00fdff"/>
<rect x="134.55" y="660.54" width="2.34" height="15.28" fill="#0cfff3"/>
<rect x="136.89" y="643.00" width="2.34" height="7.50" fill="#42ffbd"/>
<rect x="136.89" y="650.49" width="2.34" height="10.04" fill="#79ff86"/>
<rect x="139.22" y="650.49" width="2.34" height="10.04" fill="#79ff86"/>
<rect x="139.22" y="660.54" width="2.34" height="15.28" fill="#86ff79"/>
<rect x="139.22" y="675.81" width="2.34" height="7.69" fill="#1affe5"/>
<rect x="169.60" y="660.54" width="2.34" height="15.28" fill="#a2ff5e"/>
<rect x="171.94" y="650.49" width="2.34" height="10.04" fill="#27ffd8"/>
<rect x="171.94" y="660.54" width="2.34" height="15.28" fill="#00fdff"/>
<rect x="174.27" y="650.49" width="2.34" height="10.04" fill="#35ffca"/>
<rect x="206.98" y="650.49" width="2.34" height="10.04" fill="#e5ff1a"/>
<rect x="206.98" y="660.54" width="2.34" height="15.28" fill="#fff700"/>
<rect x="206.98" y="675.81" width="2.34" height="7.69" fill="#00fdff"/>
<rect x="211.66" y="650.49" width="2.34" height="10.04" fill="#a2ff5e"/>
<rect x="211.66" y="660.54" width="2.34" height="15.28" fill="#27ffd8"/>
<rect x="213.99" y="643.00" width="2.34" height="7.50" fill="#0cfff3"/>
<rect x="213.99" y="650.49" width="2.34" height="10.04" fill="#64ff9b"/>
<rect x="213.99" y="660.54" width="2.34" height="15.28" fill="#00fdff"/>
<rect x="244.37" y="650.49" width="2.34" height="10.04" fill="#a2ff5e"/>
<rect x="246.71" y="650.49" width="2.34" height="10.04" fill="#1affe5"/>
<rect x="249.04" y="660.54" width="2.34" height="15.28" fill="#35ffca"/>
<rect x="251.38" y="660.54" width="2.34" height="15.28" fill="#42ffbd"/>
<rect x="281.76" y="650.49" width="2.34" height="10.04" fill="#35ffca"/>
<rect x="281.76" y="660.54" width="2.34" height="15.28" fill="#27ffd8"/>
<rect x="284.09" y="660.54" width="2.34" height="15.28" fill="#00fdff"/>
<rect x="288.77" y="650.49" width="2.34" height="10.04" fill="#42ffbd"/>
<rect x="288.77" y="660.54" width="2.34" height="15.28" fill="#42ffbd"/>
<rect x="319.14" y="650.49" width="2.34" height="10.04" fill="#00f0ff"/>
<rect x="319.14" y="660.54" width="2.34" height="15.28" fill="#afff50"/>
<rect x="321.48" y="650.49" width="2.34" height="10.04" fill="#6bff94"/>
<rect x="321.48" y="660.54" width="2.34" height="15.28" fill="#27ffd8"/>
<rect x="323.81" y="650.49" width="2.34" height="10.04" fill="#27ffd8"/>
<rect x="323.81" y="660.54" width="2.34" height="15.28" fill="#27ffd8"/>
<rect x="356.53" y="650.49" width="2.34" height="10.04" fill="#86ff79"/>
<rect x="356.53" y="660.54" width="2.34" height="15.28" fill="#6bff94"/>
<rect x="358.86" y="650.49" width="2.34" height="10.04" fill="#86ff79"/>
<rect x="358.86" y="660.54" width="2.34" height="15.28" fill="#50ffaf"/>
<rect x="361.20" y="650.49" width="2.34" height="10.04" fill="#27ffd8"/>
<rect x="363.54" y="650.49" width="2.34" height="10.04" fill="#27ffd8"/>
<rect x="393.91" y="650.49" width="2.34" height="10.04" fill="#a2ff5e"/>
<rect x="393.91" y="660.54" width="2.34" height="15.28" fill="#42ffbd"/>
<rect x="396.25" y="660.54" width="2.34" height="15.28" fill="#42ffbd"/>
<rect x="398.59" y="660.54" width="2.34" height="15.28" fill="#50ffaf"/>
<rect x="400.92" y="650.49" width="2.34" height="10.04" fill="#1affe5"/>
<rect x="400.92" y="660.54" width="2.34" height="15.28" fill="#27ffd8"/>
<rect x="431.30" y="650.49" width="2.34" height="10.04" fill="#27ffd8"/>
<rect x="433.63" y="660.54" width="2.34" height="15.28" fill="#35ffca"/>
<rect x="438.31" y="650.49" width="2.34" height="10.04" fill="#1affe5"/>
<rect x="468.68" y="650.49" width="2.34" height="10.04" fill="#0cfff3"/>
<rect x="475.69" y="643.00" width="2.34" height="7.50" fill="#00fdff"/>
<rect x="475.69" y="650.49" width="2.34" height="10.04" fill="#00fdff"/>
<rect x="475.69" y="660.54" width="2.34" height="15.28" fill="#6bff94"/>
<rect x="506.07" y="650.49" width="2.34" height="10.04" fill="#79ff86"/>
<rect x="506.07" y="660.54" width="2.34" height="15.28" fill="#79ff86"/>
<rect x="508.41" y="650.49" width="2.34" height="10.04" fill="#50ffaf"/>
<rect x="508.41" y="660.54" width="2.34" height="15.28" fill="#6bff94"/>
<rect x="510.74" y="650.49" width="2.34" height="10.04" fill="#79ff86"/>
<rect x="510.74" y="660.54" width="2.34" height="15.28" fill="#35ffca"/>
<rect x="513.08" y="660.54" width="2.34" height="15.28" fill="#35ffca"/>
<rect x="543.45" y="650.49" width="2.34" height="10.04" fill="#6bff94"/>
<rect x="543.45" y="660.54" width="2.34" height="15.28" fill="#42ffbd"/>
<rect x="545.79" y="660.54" width="2.34" height="15.28" fill="#27ffd8"/>
<rect x="548.13" y="650.49" width="2.34" height="10.04" fill="#42ffbd"/>
<rect x="548.13" y="660.54" width="2.34" height="15.28" fill="#00fdff"/>
<rect x="550.46" y="650.49" width="2.34" height="10.04" fill="#27ffd8"/>
<rect x="550.46" y="660.54" width="2.34" height="15.28" fill="#50ffaf"/>
<rect x="583.18" y="660.54" width="2.34" height="15.28" fill="#42ffbd"/>
<rect x="583.18" y="675.81" width="2.34" height="7.69" fill="#42ffbd"/>
<rect x="585.51" y="660.54" width="2.34" height="15.28" fill="#6bff94"/>
<rect x="587.85" y="650.49" width="2.34" height="10.04" fill="#0cfff3"/>
<rect x="618.23" y="660.54" width="2.34" height="15.28" fill="#50ffaf"/>
<rect x="620.56" y="650.49" width="2.34" height="10.04" fill="#bdff42"/>
<rect x="625.24" y="660.54" width="2.34" height="15.28" fill="#79ff86"/>
<rect x="655.61" y="650.49" width="2.34" height="10.04" fill="#6bff94"/>
<rect x="655.61" y="660.54" width="2.34" height="15.28" fill="#1affe5"/>
<rect x="657.95" y="650.49" width="2.34" height="10.04" fill="#00fdff"/>
<rect x="657.95" y="660.54" width="2.34" height="15.28" fill="#6bff94"/>
<rect x="660.28" y="650.49" width="2.34" height="10.04" fill="#1affe5"/>
<rect x="660.28" y="660.54" width="2.34" height="15.28" fill="#a2ff5e"/>
<rect x="662.62" y="643.00" width="2.34" height="7.50" fill="#5effa2"/>
<rect x="662.62" y="650.49" width="2.34" height="10.04" fill="#a2ff5e"/>
<rect x="662.62" y="660.54" width="2.34" height="15.28" fill="#afff50"/>
<rect x="667.29" y="650.49" width="2.34" height="10.04" fill="#1affe5"/>
<rect x="693.00" y="650.49" width="2.34" height="10.04" fill="#6bff94"/>
<rect x="693.00" y="660.54" width="2.34" height="15.28" fill="#d8ff27"/>
<rect x="695.33" y="650.49" width="2.34" height="10.04" fill="#50ffaf"/>
<rect x="695.33" y="660.54" width="2.34" height="15.28" fill="#bdff42"/>
<rect x="697.67" y="650.49" width="2.34" height="10.04" fill="#00fdff"/>
<rect x="700.01" y="660.54" width="2.34" height="15.28" fill="#1affe5"/>
<rect x="730.38" y="660.54" width="2.34" height="15.28" fill="#afff50"/>
<rect x="732.72" y="660.54" width="2.34" height="15.28" fill="#a2ff5e"/>
<rect x="735.06" y="660.54" width="2.34" height="15.28" fill="#86ff79"/>
<rect x="737.39" y="650.49" width="2.34" height="10.04" fill="#6bff94"/>
<rect x="737.39" y="660.54" width="2.34" height="15.28" fill="#94ff6b"/>
<rect x="770.11" y="650.49" width="2.34" height="10.04" fill="#6bff94"/>
<rect x="770.11" y="660.54" width="2.34" height="15.28" fill="#94ff6b"/>
<rect x="772.44" y="650.49" width="2.34" height="10.04" fill="#6bff94"/>
<rect x="772.44" y="660.54" width="2.34" height="15.28" fill="#94ff6b"/>
<rect x="805.15" y="650.49" width="2.34" height="10.04" fill="#00f0ff"/>
<rect x="805.15" y="660.54" width="2.34" height="15.28" fill="#79ff86"/>
<rect x="807.49" y="650.49" width="2.34" height="10.04" fill="#6bff94"/>
<rect x="807.49" y="660.54" width="2.34" height="15.28" fill="#50ffaf"/>
<rect x="809.83" y="660.54" width="2.34" height="15.28" fill="#27ffd8"/>
<rect x="812.16" y="650.49" width="2.34" height="10.04" fill="#50ffaf"/>
<rect x="812.16" y="660.54" width="2.34" height="15.28" fill="#6bff94"/>
<rect x="842.54" y="650.49" width="2.34" height="10.04" fill="#6bff94"/>
<rect x="842.54" y="660.54" width="2.34" height="15.28" fill="#79ff86"/>
<rect x="844.88" y="650.49" width="2.34" height="10.04" fill="#00f0ff"/>
<rect x="844.88" y="660.54" width="2.34" height="15.28" fill="#a2ff5e"/>
<rect x="847.21" y="643.00" width="2.34" height="7.50" fill="#00fdff"/>
<rect x="847.21" y="650.49" width="2.34" height="10.04" fill="#79ff86"/>
<rect x="847.21" y="660.54" width="2.34" height="15.28" fill="#a2ff5e"/>
<rect x="849.55" y="650.49" width="2.34" height="10.04" fill="#6bff94"/>
<rect x="849.55" y="660.54" width="2.34" height="15.28" fill="#94ff6b"/>
<rect x="167.26" y="518.18" width="2.34" height="2.34" fill="#003fff"/>
<rect x="164.93" y="520.52" width="2.34" height="2.34" fill="#00acff"/>
<rect x="167.26" y="520.52" width="2.34" height="2.34" fill="#0097ff"/>
<rect x="164.93" y="522.86" width="2.34" height="2.34" fill="#00c0ff"/>
<rect x="167.26" y="522.86" width="2.34" height="2.34" fill="#0097ff"/>
<rect x="164.93" y="525.20" width="2.34" height="2.34" fill="#0097ff"/>
<rect x="204.65" y="518.18" width="2.34" height="2.34" fill="#004dff"/>
<rect x="206.98" y="518.18" width="2.34" height="2.34" fill="#003fff"/>
<rect x="202.31" y="520.52" width="2.34" height="2.34" fill="#0024ff"/>
<rect x="204.65" y="520.52" width="2.34" height="2.34" fill="#00f0ff"/>
<rect x="206.98" y="520.52" width="2.34" height="2.34" fill="#004dff"/>
<rect x="202.31" y="522.86" width="2.34" height="2.34" fill="#0038ff"/>
<rect x="204.65" y="522.86" width="2.34" height="2.34" fill="#00f6ff"/>
<rect x="206.98" y="522.86" width="2.34" height="2.34" fill="#0053ff"/>
<rect x="202.31" y="525.20" width="2.34" height="2.34" fill="#003fff"/>
<rect x="204.65" y="525.20" width="2.34" height="2.34" fill="#0068ff"/>
<rect x="242.03" y="518.18" width="2.34" height="2.34" fill="#0068ff"/>
<rect x="244.37" y="518.18" width="2.34" height="2.34" fill="#004dff"/>
<rect x="242.03" y="520.52" width="2.34" height="2.34" fill="#00f0ff"/>
<rect x="244.37" y="520.52" width="2.34" height="2.34" fill="#0097ff"/>
<rect x="239.70" y="522.86" width="2.34" height="2.34" fill="#009eff"/>
<rect x="242.03" y="522.86" width="2.34" height="2.34" fill="#00f6ff"/>
<rect x="244.37" y="522.86" width="2.34" height="2.34" fill="#005aff"/>
<rect x="242.03" y="525.20" width="2.34" height="2.34" fill="#004dff"/>
<rect x="279.42" y="518.18" width="2.34" height="2.34" fill="#004dff"/>
<rect x="279.42" y="520.52" width="2.34" height="2.34" fill="#00e2ff"/>
<rect x="281.76" y="520.52" width="2.34" height="2.34" fill="#0068ff"/>
<rect x="277.08" y="522.86" width="2.34" height="2.34" fill="#0068ff"/>
<rect x="279.42" y="522.86" width="2.34" height="2.34" fill="#00f0ff"/>
<rect x="277.08" y="525.20" width="2.34" height="2.34" fill="#004dff"/>
<rect x="279.42" y="525.20" width="2.34" height="2.34" fill="#0068ff"/>
<rect x="316.80" y="518.18" width="2.34" height="2.34" fill="#004dff"/>
<rect x="316.80" y="520.52" width="2.34" height="2.34" fill="#00c0ff"/>
<rect x="314.47" y="522.86" width="2.34" height="2.34" fill="#004dff"/>
<rect x="316.80" y="522.86" width="2.34" height="2.34" fill="#00fdff"/>
<rect x="319.14" y="522.86" width="2.34" height="2.34" fill="#003fff"/>
<rect x="354.19" y="515.84" width="2.34" height="2.34" fill="#003fff"/>
<rect x="354.19" y="518.18" width="2.34" height="2.34" fill="#005aff"/>
<rect x="351.85" y="520.52" width="2.34" height="2.34" fill="#005aff"/>
<rect x="354.19" y="520.52" width="2.34" height="2.34" fill="#00c0ff"/>
<rect x="351.85" y="522.86" width="2.34" height="2.34" fill="#0097ff"/>
<rect x="354.19" y="522.86" width="2.34" height="2.34" fill="#00fdff"/>
<rect x="354.19" y="525.20" width="2.34" height="2.34" fill="#0097ff"/>
<rect x="391.58" y="515.84" width="2.34" height="2.34" fill="#0075ff"/>
<rect x="391.58" y="520.52" width="2.34" height="2.34" fill="#00c7ff"/>
<rect x="389.24" y="522.86" width="2.34" height="2.34" fill="#00acff"/>
<rect x="391.58" y="522.86" width="2.34" height="2.34" fill="#00fdff"/>
<rect x="391.58" y="525.20" width="2.34" height="2.34" fill="#003fff"/>
<rect x="428.96" y="518.18" width="2.34" height="2.34" fill="#003fff"/>
<rect x="428.96" y="520.52" width="2.34" height="2.34" fill="#00f0ff"/>
<rect x="428.96" y="522.86" width="2.34" height="2.34" fill="#00fdff"/>
<rect x="428.96" y="525.20" width="2.34" height="2.34" fill="#004dff"/>
<rect x="468.68" y="518.18" width="2.34" height="2.34" fill="#0038ff"/>
<rect x="466.35" y="520.52" width="2.34" height="2.34" fill="#0cfff3"/>
<rect x="468.68" y="520.52" width="2.34" height="2.34" fill="#003fff"/>
<rect x="464.01" y="522.86" width="2.34" height="2.34" fill="#0024ff"/>
<rect x="466.35" y="522.86" width="2.34" height="2.34" fill="#00fdff"/>
<rect x="466.35" y="525.20" width="2.34" height="2.34" fill="#0068ff"/>
<rect x="503.73" y="518.18" width="2.34" height="2.34" fill="#003fff"/>
<rect x="506.07" y="518.18" width="2.34" height="2.34" fill="#003fff"/>
<rect x="503.73" y="520.52" width="2.34" height="2.34" fill="#00f6ff"/>
<rect x="506.07" y="520.52" width="2.34" height="2.34" fill="#0068ff"/>
<rect x="503.73" y="522.86" width="2.34" height="2.34" fill="#00f0ff"/>
<rect x="506.07" y="522.86" width="2.34" height="2.34" fill="#0031ff"/>
<rect x="503.73" y="525.20" width="2.34" height="2.34" fill="#004dff"/>
<rect x="538.78" y="520.52" width="2.34" height="2.34" fill="#004dff"/>
<rect x="541.12" y="520.52" width="2.34" height="2.34" fill="#00f6ff"/>
<rect x="543.45" y="520.52" width="2.34" height="2.34" fill="#0068ff"/>
<rect x="538.78" y="522.86" width="2.34" height="2.34" fill="#004dff"/>
<rect x="541.12" y="522.86" width="2.34" height="2.34" fill="#00fdff"/>
<rect x="543.45" y="522.86" width="2.34" height="2.34" fill="#003fff"/>
<rect x="541.12" y="525.20" width="2.34" height="2.34" fill="#0097ff"/>
<rect x="578.50" y="518.18" width="2.34" height="2.34" fill="#0097ff"/>
<rect x="578.50" y="520.52" width="2.34" height="2.34" fill="#0cfff3"/>
<rect x="580.84" y="520.52" width="2.34" height="2.34" fill="#004dff"/>
<rect x="578.50" y="522.86" width="2.34" height="2.34" fill="#0cfff3"/>
<rect x="580.84" y="522.86" width="2.34" height="2.34" fill="#0038ff"/>
<rect x="578.50" y="525.20" width="2.34" height="2.34" fill="#0068ff"/>
<rect x="615.89" y="520.52" width="2.34" height="2.34" fill="#00f6ff"/>
<rect x="618.23" y="520.52" width="2.34" height="2.34" fill="#0075ff"/>
<rect x="613.55" y="522.86" width="2.34" height="2.34" fill="#004dff"/>
<rect x="615.89" y="522.86" width="2.34" height="2.34" fill="#00f6ff"/>
<rect x="615.89" y="525.20" width="2.34" height="2.34" fill="#003fff"/>
<rect x="653.28" y="518.18" width="2.34" height="2.34" fill="#0075ff"/>
<rect x="650.94" y="520.52" width="2.34" height="2.34" fill="#0083ff"/>
<rect x="653.28" y="520.52" width="2.34" height="2.34" fill="#00f0ff"/>
<rect x="655.61" y="520.52" width="2.34" height="2.34" fill="#0075ff"/>
<rect x="650.94" y="522.86" width="2.34" height="2.34" fill="#0075ff"/>
<rect x="653.28" y="522.86" width="2.34" height="2.34" fill="#0cfff3"/>
<rect x="655.61" y="522.86" width="2.34" height="2.34" fill="#0016ff"/>
<rect x="690.66" y="518.18" width="2.34" height="2.34" fill="#002aff"/>
<rect x="690.66" y="520.52" width="2.34" height="2.34" fill="#0cfff3"/>
<rect x="688.32" y="522.86" width="2.34" height="2.34" fill="#003fff"/>
<rect x="690.66" y="522.86" width="2.34" height="2.34" fill="#00fdff"/>
<rect x="690.66" y="525.20" width="2.34" height="2.34" fill="#0031ff"/>
<rect x="730.38" y="518.18" width="2.34" height="2.34" fill="#004dff"/>
<rect x="728.05" y="520.52" width="2.34" height="2.34" fill="#0cfff3"/>
<rect x="730.38" y="520.52" width="2.34" height="2.34" fill="#0068ff"/>
<rect x="728.05" y="522.86" width="2.34" height="2.34" fill="#00fdff"/>
<rect x="730.38" y="522.86" width="2.34" height="2.34" fill="#004dff"/>
<rect x="728.05" y="525.20" width="2.34" height="2.34" fill="#00acff"/>
<rect x="765.43" y="520.52" width="2.34" height="2.34" fill="#00f0ff"/>
<rect x="767.77" y="520.52" width="2.34" height="2.34" fill="#00c0ff"/>
<rect x="765.43" y="522.86" width="2.34" height="2.34" fill="#00f0ff"/>
<rect x="767.77" y="522.86" width="2.34" height="2.34" fill="#009eff"/>
<rect x="802.82" y="520.52" width="2.34" height="2.34" fill="#00f0ff"/>
<rect x="800.48" y="522.86" width="2.34" height="2.34" fill="#002aff"/>
<rect x="802.82" y="522.86" width="2.34" height="2.34" fill="#00f0ff"/>
<rect x="802.82" y="525.20" width="2.34" height="2.34" fill="#005aff"/>
<rect x="840.20" y="520.52" width="2.34" height="2.34" fill="#00f0ff"/>
<rect x="842.54" y="520.52" width="2.34" height="2.34" fill="#00c0ff"/>
<rect x="840.20" y="522.86" width="2.34" height="2.34" fill="#00e2ff"/>
<rect x="842.54" y="522.86" width="2.34" height="2.34" fill="#0038ff"/>
<rect x="840.20" y="525.20" width="2.34" height="2.34" fill="#0075ff"/>
</g>
<g class="ax">
<rect x="133" y="422" width="733" height="1" fill="#262626"/>
<rect x="133" y="683" width="733" height="1" fill="#262626"/>
<rect x="133" y="422" width="1" height="262" fill="#262626"/>
<rect x="865" y="422" width="1" height="262" fill="#262626"/>
<rect x="133" y="683" width="1" height="8.3" fill="#262626"/>
<rect x="133" y="414" width="1" height="9" fill="#262626"/>
<rect x="249" y="683" width="1" height="8.3" fill="#262626"/>
<rect x="249" y="414" width="1" height="9" fill="#262626"/>
<rect x="366" y="683" width="1" height="8.3" fill="#262626"/>
<rect x="366" y="414" width="1" height="9" fill="#262626"/>
<rect x="483" y="683" width="1" height="8.3" fill="#262626"/>
<rect x="483" y="414" width="1" height="9" fill="#262626"/>
<rect x="600" y="683" width="1" height="8.3" fill="#262626"/>
<rect x="600" y="414" width="1" height="9" fill="#262626"/>
<rect x="717" y="683" width="1" height="8.3" fill="#262626"/>
<rect x="717" y="414" width="1" height="9" fill="#262626"/>
<rect x="834" y="683" width="1" height="8.3" fill="#262626"/>
<rect x="834" y="414" width="1" height="9" fill="#262626"/>
<rect x="129" y="683" width="5" height="1" fill="#262626"/>
<rect x="865" y="683" width="5" height="1" fill="#262626"/>
<rect x="129" y="679" width="5" height="1" fill="#262626"/>
<rect x="865" y="679" width="5" height="1" fill="#262626"/>
<rect x="129" y="675" width="5" height="1" fill="#262626"/>
<rect x="865" y="675" width="5" height="1" fill="#262626"/>
<rect x="129" y="671" width="5" height="1" fill="#262626"/>
<rect x="865" y="671" width="5" height="1" fill="#262626"/>
<rect x="125" y="668" width="9" height="1" fill="#262626"/>
<rect x="865" y="668" width="9" height="1" fill="#262626"/>
<rect x="129" y="648" width="5" height="1" fill="#262626"/>
<rect x="865" y="648" width="5" height="1" fill="#262626"/>
<rect x="129" y="636" width="5" height="1" fill="#262626"/>
<rect x="865" y="636" width="5" height="1" fill="#262626"/>
<rect x="129" y="627" width="5" height="1" fill="#262626"/>
<rect x="865" y="627" width="5" height="1" fill="#262626"/>
<rect x="129" y="620" width="5" height="1" fill="#262626"/>
<rect x="865" y="620" width="5" height="1" fill="#262626"/>
<rect x="129" y="615" width="5" height="1" fill="#262626"/>
<rect x="865" y="615" width="5" height="1" fill="#262626"/>
<rect x="129" y="610" width="5" height="1" fill="#262626"/>
<rect x="865" y="610" width="5" height="1" fill="#262626"/>
<rect x="129" y="606" width="5" height="1" fill="#262626"/>
<rect x="865" y="606" width="5" height="1" fill="#262626"/>
<rect x="129" y="603" width="5" height="1" fill="#262626"/>
<rect x="865" y="603" width="5" height="1" fill="#262626"/>
<rect x="125" y="600" width="9" height="1" fill="#262626"/>
<rect x="865" y="600" width="9" height="1" fill="#262626"/>
<rect x="129" y="579" width="5" height="1" fill="#262626"/>
<rect x="865" y="579" width="5" height="1" fill="#262626"/>
<rect x="129" y="567" width="5" height="1" fill="#262626"/>
<rect x="865" y="567" width="5" height="1" fill="#262626"/>
<rect x="129" y="559" width="5" height="1" fill="#262626"/>
<rect x="865" y="559" width="5" height="1" fill="#262626"/>
<rect x="129" y="552" width="5" height="1" fill="#262626"/>
<rect x="865" y="552" width="5" height="1" fill="#262626"/>
<rect x="129" y="546" width="5" height="1" fill="#262626"/>
<rect x="865" y="546" width="5" height="1" fill="#262626"/>
<rect x="129" y="542" width="5" height="1" fill="#262626"/>
<rect x="865" y="542" width="5" height="1" fill="#262626"/>
<rect x="129" y="538" width="5" height="1" fill="#262626"/>
<rect x="865" y="538" width="5" height="1" fill="#262626"/>
<rect x="129" y="534" width="5" height="1" fill="#262626"/>
<rect x="865" y="534" width="5" height="1" fill="#262626"/>
<rect x="125" y="531" width="9" height="1" fill="#262626"/>
<rect x="865" y="531" width="9" height="1" fill="#262626"/>
<rect x="129" y="511" width="5" height="1" fill="#262626"/>
<rect x="865" y="511" width="5" height="1" fill="#262626"/>
<rect x="129" y="499" width="5" height="1" fill="#262626"/>
<rect x="865" y="499" width="5" height="1" fill="#262626"/>
<rect x="129" y="490" width="5" height="1" fill="#262626"/>
<rect x="865" y="490" width="5" height="1" fill="#262626"/>
<rect x="129" y="483" width="5" height="1" fill="#262626"/>
<rect x="865" y="483" width="5" height="1" fill="#262626"/>
<rect x="129" y="478" width="5" height="1" fill="#262626"/>
<rect x="865" y="478" width="5" height="1" fill="#262626"/>
<rect x="129" y="473" width="5" height="1" fill="#262626"/>
<rect x="865" y="473" width="5" height="1" fill="#262626"/>
<rect x="129" y="469" width="5" height="1" fill="#262626"/>
<rect x="865" y="469" width="5" height="1" fill="#262626"/>
<rect x="129" y="466" width="5" height="1" fill="#262626"/>
<rect x="865" y="466" width="5" height="1" fill="#262626"/>
<rect x="125" y="463" width="9" height="1" fill="#262626"/>
<rect x="865" y="463" width="9" height="1" fill="#262626"/>
<rect x="129" y="442" width="5" height="1" fill="#262626"/>
<rect x="865" y="442" width="5" height="1" fill="#262626"/>
<rect x="129" y="430" width="5" height="1" fill="#262626"/>
<rect x="865" y="430" width="5" height="1" fill="#262626"/>
<rect x="129" y="422" width="5" height="1" fill="#262626"/>
<rect x="865" y="422" width="5" height="1" fill="#262626"/>
<rect x="873" y="422" width="24" height="262" fill="url(#jet)"/>
<rect x="873.5" y="422.5" width="23" height="261" fill="none" stroke="#262626" stroke-width="1"/>
<rect x="894" y="614" width="3" height="1" fill="#262626"/>
<rect x="894" y="544" width="3" height="1" fill="#262626"/>
<rect x="894" y="474" width="3" height="1" fill="#262626"/>
</g>
<text transform="translate(132.9 715.2) scale(1 1)" text-anchor="middle" class="t">16:00</text>
<text transform="translate(248.9 715.2) scale(1 1)" text-anchor="middle" class="t">16:10</text>
<text transform="translate(365.9 715.2) scale(1 1)" text-anchor="middle" class="t">16:20</text>
<text transform="translate(482.9 715.2) scale(1 1)" text-anchor="middle" class="t">16:30</text>
<text transform="translate(599.9 715.2) scale(1 1)" text-anchor="middle" class="t">16:40</text>
<text transform="translate(716.9 715.2) scale(1 1)" text-anchor="middle" class="t">16:50</text>
<text transform="translate(833.9 715.2) scale(1 1)" text-anchor="middle" class="t">17:00</text>
<text transform="translate(90 675) scale(1 1)" text-anchor="middle" class="t">10</text>
<text transform="translate(90 606) scale(1 1)" text-anchor="middle" class="t">100</text>
<text transform="translate(90 538) scale(1 1)" text-anchor="middle" class="t">1000</text>
<text transform="translate(90 469) scale(1 1)" text-anchor="middle" class="t">10000</text>
<text transform="translate(903 690) scale(1 1)" class="t">0</text>
<text transform="translate(903 620) scale(1 1)" class="t">2</text>
<text transform="translate(903 550) scale(1 1)" class="t">4</text>
<text transform="translate(903 480) scale(1 1)" class="t">6</text>
<text transform="translate(52 553.5) rotate(-90) scale(1 1)" text-anchor="middle" class="l">Energy (eV)</text>
<text transform="translate(499.5 740) scale(1 1)" text-anchor="middle" class="l">Time</text>
<text transform="translate(500.2 412.7) scale(1 1)" text-anchor="middle" class="h">Cometary Ions</text>
<text transform="translate(885 411.2) scale(1 1)" text-anchor="middle" class="f">Flux</text>
<text transform="translate(943 622.8) rotate(-90) scale(1 1)" class="t"><tspan x="-0.8" dy="0">eV</tspan><tspan x="23.0" dy="-9" class="sup">-1</tspan><tspan x="38.1" dy="9">cm</tspan><tspan x="65.65" dy="-9" class="sup">-2</tspan><tspan x="81.0" dy="9">sr</tspan><tspan x="98.3" dy="-9" class="sup">-1</tspan><tspan x="112.9" dy="9">s</tspan><tspan x="123.3" dy="-9" class="sup">-1</tspan></text>
</g>
</svg>
</body>
</html>
